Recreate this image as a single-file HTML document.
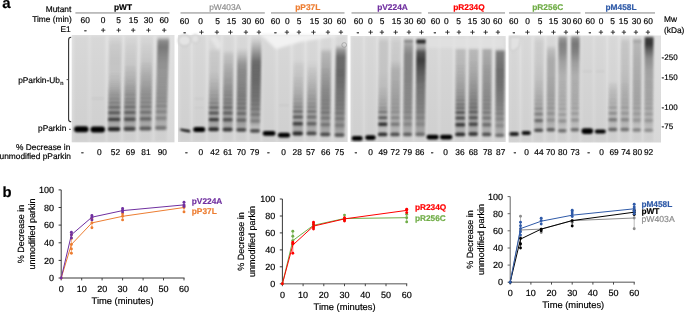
<!DOCTYPE html>
<html><head><meta charset="utf-8"><title>Parkin ubiquitination</title>
<style>
html,body{margin:0;padding:0;background:#fff;}
body{width:685px;height:312px;overflow:hidden;}
svg{display:block;font-family:'Liberation Sans', Arial, sans-serif;}
text{text-rendering:geometricPrecision;}
</style></head><body>
<svg width="685" height="312" viewBox="0 0 685 312">
<rect width="685" height="312" fill="#fff"/>
<defs>
<filter id="bb" x="-20%" y="-60%" width="140%" height="220%"><feGaussianBlur stdDeviation="0.8 0.85"/></filter>
<filter id="sb" x="-30%" y="-5%" width="160%" height="110%"><feGaussianBlur stdDeviation="1.0 1.0"/></filter>
<filter id="lb" x="-30%" y="-5%" width="160%" height="110%"><feGaussianBlur stdDeviation="1.2 1.2"/></filter>
<filter id="ab" x="-10%" y="-10%" width="120%" height="120%"><feGaussianBlur stdDeviation="1.5"/></filter>
<linearGradient id="gbg" x1="0" y1="0" x2="0" y2="1"><stop offset="0" stop-color="#e1e1e1"/><stop offset="0.5" stop-color="#dcdcdc"/><stop offset="1" stop-color="#d8d8d8"/></linearGradient>
<linearGradient id="sg2" gradientUnits="userSpaceOnUse" x1="0" y1="37" x2="0" y2="132"><stop offset="0.000" stop-color="#000" stop-opacity="0.000"/><stop offset="0.084" stop-color="#000" stop-opacity="0.060"/><stop offset="0.242" stop-color="#000" stop-opacity="0.080"/><stop offset="0.400" stop-color="#000" stop-opacity="0.070"/><stop offset="0.505" stop-color="#000" stop-opacity="0.120"/><stop offset="0.611" stop-color="#000" stop-opacity="0.200"/><stop offset="0.716" stop-color="#000" stop-opacity="0.240"/><stop offset="0.853" stop-color="#000" stop-opacity="0.260"/><stop offset="0.937" stop-color="#000" stop-opacity="0.180"/><stop offset="1.000" stop-color="#000" stop-opacity="0.000"/></linearGradient>
<linearGradient id="sg3" gradientUnits="userSpaceOnUse" x1="0" y1="37" x2="0" y2="132"><stop offset="0.000" stop-color="#000" stop-opacity="0.000"/><stop offset="0.116" stop-color="#000" stop-opacity="0.040"/><stop offset="0.295" stop-color="#000" stop-opacity="0.070"/><stop offset="0.453" stop-color="#000" stop-opacity="0.140"/><stop offset="0.611" stop-color="#000" stop-opacity="0.220"/><stop offset="0.716" stop-color="#000" stop-opacity="0.250"/><stop offset="0.853" stop-color="#000" stop-opacity="0.260"/><stop offset="0.937" stop-color="#000" stop-opacity="0.180"/><stop offset="1.000" stop-color="#000" stop-opacity="0.000"/></linearGradient>
<linearGradient id="sg4" gradientUnits="userSpaceOnUse" x1="0" y1="37" x2="0" y2="132"><stop offset="0.000" stop-color="#000" stop-opacity="0.000"/><stop offset="0.116" stop-color="#000" stop-opacity="0.040"/><stop offset="0.263" stop-color="#000" stop-opacity="0.080"/><stop offset="0.400" stop-color="#000" stop-opacity="0.160"/><stop offset="0.558" stop-color="#000" stop-opacity="0.220"/><stop offset="0.716" stop-color="#000" stop-opacity="0.250"/><stop offset="0.853" stop-color="#000" stop-opacity="0.250"/><stop offset="0.937" stop-color="#000" stop-opacity="0.180"/><stop offset="1.000" stop-color="#000" stop-opacity="0.000"/></linearGradient>
<linearGradient id="sg5" gradientUnits="userSpaceOnUse" x1="0" y1="37" x2="0" y2="132"><stop offset="0.000" stop-color="#000" stop-opacity="0.000"/><stop offset="0.042" stop-color="#000" stop-opacity="0.360"/><stop offset="0.105" stop-color="#000" stop-opacity="0.440"/><stop offset="0.211" stop-color="#000" stop-opacity="0.360"/><stop offset="0.347" stop-color="#000" stop-opacity="0.280"/><stop offset="0.558" stop-color="#000" stop-opacity="0.250"/><stop offset="0.768" stop-color="#000" stop-opacity="0.240"/><stop offset="0.937" stop-color="#000" stop-opacity="0.160"/><stop offset="1.000" stop-color="#000" stop-opacity="0.000"/></linearGradient>
<linearGradient id="sg8" gradientUnits="userSpaceOnUse" x1="0" y1="48" x2="0" y2="132"><stop offset="0.000" stop-color="#000" stop-opacity="0.000"/><stop offset="0.048" stop-color="#000" stop-opacity="0.060"/><stop offset="0.321" stop-color="#000" stop-opacity="0.080"/><stop offset="0.500" stop-color="#000" stop-opacity="0.150"/><stop offset="0.738" stop-color="#000" stop-opacity="0.220"/><stop offset="0.929" stop-color="#000" stop-opacity="0.200"/><stop offset="1.000" stop-color="#000" stop-opacity="0.000"/></linearGradient>
<linearGradient id="sg9" gradientUnits="userSpaceOnUse" x1="0" y1="50" x2="0" y2="132"><stop offset="0.000" stop-color="#000" stop-opacity="0.000"/><stop offset="0.061" stop-color="#000" stop-opacity="0.100"/><stop offset="0.305" stop-color="#000" stop-opacity="0.200"/><stop offset="0.488" stop-color="#000" stop-opacity="0.250"/><stop offset="0.732" stop-color="#000" stop-opacity="0.280"/><stop offset="0.927" stop-color="#000" stop-opacity="0.200"/><stop offset="1.000" stop-color="#000" stop-opacity="0.000"/></linearGradient>
<linearGradient id="sg10" gradientUnits="userSpaceOnUse" x1="0" y1="48" x2="0" y2="132"><stop offset="0.000" stop-color="#000" stop-opacity="0.000"/><stop offset="0.095" stop-color="#000" stop-opacity="0.140"/><stop offset="0.167" stop-color="#000" stop-opacity="0.270"/><stop offset="0.262" stop-color="#000" stop-opacity="0.320"/><stop offset="0.500" stop-color="#000" stop-opacity="0.320"/><stop offset="0.738" stop-color="#000" stop-opacity="0.300"/><stop offset="0.929" stop-color="#000" stop-opacity="0.220"/><stop offset="1.000" stop-color="#000" stop-opacity="0.000"/></linearGradient>
<linearGradient id="sg11" gradientUnits="userSpaceOnUse" x1="0" y1="38" x2="0" y2="132"><stop offset="0.000" stop-color="#000" stop-opacity="0.000"/><stop offset="0.074" stop-color="#000" stop-opacity="0.140"/><stop offset="0.181" stop-color="#000" stop-opacity="0.360"/><stop offset="0.255" stop-color="#000" stop-opacity="0.500"/><stop offset="0.447" stop-color="#000" stop-opacity="0.480"/><stop offset="0.660" stop-color="#000" stop-opacity="0.380"/><stop offset="0.872" stop-color="#000" stop-opacity="0.260"/><stop offset="1.000" stop-color="#000" stop-opacity="0.000"/></linearGradient>
<linearGradient id="sg14" gradientUnits="userSpaceOnUse" x1="0" y1="60" x2="0" y2="137"><stop offset="0.000" stop-color="#000" stop-opacity="0.000"/><stop offset="0.065" stop-color="#000" stop-opacity="0.050"/><stop offset="0.390" stop-color="#000" stop-opacity="0.120"/><stop offset="0.649" stop-color="#000" stop-opacity="0.200"/><stop offset="0.909" stop-color="#000" stop-opacity="0.200"/><stop offset="1.000" stop-color="#000" stop-opacity="0.000"/></linearGradient>
<linearGradient id="sg15" gradientUnits="userSpaceOnUse" x1="0" y1="60" x2="0" y2="137"><stop offset="0.000" stop-color="#000" stop-opacity="0.000"/><stop offset="0.130" stop-color="#000" stop-opacity="0.050"/><stop offset="0.390" stop-color="#000" stop-opacity="0.140"/><stop offset="0.584" stop-color="#000" stop-opacity="0.200"/><stop offset="0.779" stop-color="#000" stop-opacity="0.220"/><stop offset="0.909" stop-color="#000" stop-opacity="0.180"/><stop offset="1.000" stop-color="#000" stop-opacity="0.000"/></linearGradient>
<linearGradient id="sg16" gradientUnits="userSpaceOnUse" x1="0" y1="48" x2="0" y2="137"><stop offset="0.000" stop-color="#000" stop-opacity="0.000"/><stop offset="0.056" stop-color="#000" stop-opacity="0.150"/><stop offset="0.247" stop-color="#000" stop-opacity="0.220"/><stop offset="0.472" stop-color="#000" stop-opacity="0.300"/><stop offset="0.697" stop-color="#000" stop-opacity="0.300"/><stop offset="0.921" stop-color="#000" stop-opacity="0.220"/><stop offset="1.000" stop-color="#000" stop-opacity="0.000"/></linearGradient>
<linearGradient id="sg17" gradientUnits="userSpaceOnUse" x1="0" y1="45" x2="0" y2="137"><stop offset="0.000" stop-color="#000" stop-opacity="0.000"/><stop offset="0.054" stop-color="#000" stop-opacity="0.300"/><stop offset="0.130" stop-color="#000" stop-opacity="0.500"/><stop offset="0.326" stop-color="#000" stop-opacity="0.500"/><stop offset="0.543" stop-color="#000" stop-opacity="0.400"/><stop offset="0.761" stop-color="#000" stop-opacity="0.320"/><stop offset="0.924" stop-color="#000" stop-opacity="0.250"/><stop offset="1.000" stop-color="#000" stop-opacity="0.000"/></linearGradient>
<linearGradient id="sg20" gradientUnits="userSpaceOnUse" x1="0" y1="38" x2="0" y2="136"><stop offset="0.000" stop-color="#000" stop-opacity="0.000"/><stop offset="0.041" stop-color="#000" stop-opacity="0.080"/><stop offset="0.327" stop-color="#000" stop-opacity="0.080"/><stop offset="0.531" stop-color="#000" stop-opacity="0.120"/><stop offset="0.735" stop-color="#000" stop-opacity="0.160"/><stop offset="0.918" stop-color="#000" stop-opacity="0.120"/><stop offset="1.000" stop-color="#000" stop-opacity="0.000"/></linearGradient>
<linearGradient id="sg21" gradientUnits="userSpaceOnUse" x1="0" y1="38" x2="0" y2="137"><stop offset="0.000" stop-color="#000" stop-opacity="0.000"/><stop offset="0.040" stop-color="#000" stop-opacity="0.050"/><stop offset="0.222" stop-color="#000" stop-opacity="0.060"/><stop offset="0.323" stop-color="#000" stop-opacity="0.180"/><stop offset="0.525" stop-color="#000" stop-opacity="0.200"/><stop offset="0.727" stop-color="#000" stop-opacity="0.200"/><stop offset="0.929" stop-color="#000" stop-opacity="0.150"/><stop offset="1.000" stop-color="#000" stop-opacity="0.000"/></linearGradient>
<linearGradient id="sg22" gradientUnits="userSpaceOnUse" x1="0" y1="39" x2="0" y2="137"><stop offset="0.000" stop-color="#000" stop-opacity="0.000"/><stop offset="0.020" stop-color="#000" stop-opacity="0.450"/><stop offset="0.041" stop-color="#000" stop-opacity="0.200"/><stop offset="0.092" stop-color="#000" stop-opacity="0.300"/><stop offset="0.163" stop-color="#000" stop-opacity="0.380"/><stop offset="0.367" stop-color="#000" stop-opacity="0.380"/><stop offset="0.571" stop-color="#000" stop-opacity="0.320"/><stop offset="0.776" stop-color="#000" stop-opacity="0.280"/><stop offset="0.929" stop-color="#000" stop-opacity="0.200"/><stop offset="1.000" stop-color="#000" stop-opacity="0.000"/></linearGradient>
<linearGradient id="sg23" gradientUnits="userSpaceOnUse" x1="0" y1="38.5" x2="0" y2="137"><stop offset="0.000" stop-color="#000" stop-opacity="0.000"/><stop offset="0.020" stop-color="#000" stop-opacity="0.800"/><stop offset="0.041" stop-color="#000" stop-opacity="0.800"/><stop offset="0.061" stop-color="#000" stop-opacity="0.200"/><stop offset="0.096" stop-color="#000" stop-opacity="0.250"/><stop offset="0.137" stop-color="#000" stop-opacity="0.600"/><stop offset="0.218" stop-color="#000" stop-opacity="0.720"/><stop offset="0.320" stop-color="#000" stop-opacity="0.600"/><stop offset="0.472" stop-color="#000" stop-opacity="0.450"/><stop offset="0.624" stop-color="#000" stop-opacity="0.380"/><stop offset="0.827" stop-color="#000" stop-opacity="0.300"/><stop offset="0.949" stop-color="#000" stop-opacity="0.200"/><stop offset="1.000" stop-color="#000" stop-opacity="0.000"/></linearGradient>
<linearGradient id="sg26" gradientUnits="userSpaceOnUse" x1="0" y1="48" x2="0" y2="137"><stop offset="0.000" stop-color="#000" stop-opacity="0.000"/><stop offset="0.022" stop-color="#000" stop-opacity="0.120"/><stop offset="0.247" stop-color="#000" stop-opacity="0.150"/><stop offset="0.472" stop-color="#000" stop-opacity="0.200"/><stop offset="0.697" stop-color="#000" stop-opacity="0.220"/><stop offset="0.921" stop-color="#000" stop-opacity="0.180"/><stop offset="1.000" stop-color="#000" stop-opacity="0.000"/></linearGradient>
<linearGradient id="sg27" gradientUnits="userSpaceOnUse" x1="0" y1="48" x2="0" y2="137"><stop offset="0.000" stop-color="#000" stop-opacity="0.000"/><stop offset="0.022" stop-color="#000" stop-opacity="0.140"/><stop offset="0.247" stop-color="#000" stop-opacity="0.180"/><stop offset="0.472" stop-color="#000" stop-opacity="0.250"/><stop offset="0.697" stop-color="#000" stop-opacity="0.280"/><stop offset="0.921" stop-color="#000" stop-opacity="0.200"/><stop offset="1.000" stop-color="#000" stop-opacity="0.000"/></linearGradient>
<linearGradient id="sg28" gradientUnits="userSpaceOnUse" x1="0" y1="48" x2="0" y2="137"><stop offset="0.000" stop-color="#000" stop-opacity="0.000"/><stop offset="0.022" stop-color="#000" stop-opacity="0.200"/><stop offset="0.247" stop-color="#000" stop-opacity="0.260"/><stop offset="0.472" stop-color="#000" stop-opacity="0.280"/><stop offset="0.697" stop-color="#000" stop-opacity="0.260"/><stop offset="0.921" stop-color="#000" stop-opacity="0.180"/><stop offset="1.000" stop-color="#000" stop-opacity="0.000"/></linearGradient>
<linearGradient id="sg29" gradientUnits="userSpaceOnUse" x1="0" y1="49" x2="0" y2="138"><stop offset="0.000" stop-color="#000" stop-opacity="0.000"/><stop offset="0.034" stop-color="#000" stop-opacity="0.420"/><stop offset="0.236" stop-color="#000" stop-opacity="0.480"/><stop offset="0.404" stop-color="#000" stop-opacity="0.450"/><stop offset="0.573" stop-color="#000" stop-opacity="0.360"/><stop offset="0.798" stop-color="#000" stop-opacity="0.260"/><stop offset="0.933" stop-color="#000" stop-opacity="0.180"/><stop offset="1.000" stop-color="#000" stop-opacity="0.000"/></linearGradient>
<linearGradient id="sg32" gradientUnits="userSpaceOnUse" x1="0" y1="38" x2="0" y2="133"><stop offset="0.000" stop-color="#000" stop-opacity="0.000"/><stop offset="0.042" stop-color="#000" stop-opacity="0.050"/><stop offset="0.232" stop-color="#000" stop-opacity="0.060"/><stop offset="0.442" stop-color="#000" stop-opacity="0.100"/><stop offset="0.653" stop-color="#000" stop-opacity="0.140"/><stop offset="0.811" stop-color="#000" stop-opacity="0.160"/><stop offset="0.926" stop-color="#000" stop-opacity="0.130"/><stop offset="1.000" stop-color="#000" stop-opacity="0.000"/></linearGradient>
<linearGradient id="sg33" gradientUnits="userSpaceOnUse" x1="0" y1="45" x2="0" y2="133"><stop offset="0.000" stop-color="#000" stop-opacity="0.000"/><stop offset="0.057" stop-color="#000" stop-opacity="0.120"/><stop offset="0.170" stop-color="#000" stop-opacity="0.200"/><stop offset="0.341" stop-color="#000" stop-opacity="0.200"/><stop offset="0.568" stop-color="#000" stop-opacity="0.200"/><stop offset="0.795" stop-color="#000" stop-opacity="0.180"/><stop offset="0.920" stop-color="#000" stop-opacity="0.150"/><stop offset="1.000" stop-color="#000" stop-opacity="0.000"/></linearGradient>
<linearGradient id="sg34" gradientUnits="userSpaceOnUse" x1="0" y1="35" x2="0" y2="133"><stop offset="0.000" stop-color="#000" stop-opacity="0.000"/><stop offset="0.031" stop-color="#000" stop-opacity="0.300"/><stop offset="0.092" stop-color="#000" stop-opacity="0.400"/><stop offset="0.173" stop-color="#000" stop-opacity="0.360"/><stop offset="0.276" stop-color="#000" stop-opacity="0.250"/><stop offset="0.408" stop-color="#000" stop-opacity="0.170"/><stop offset="0.612" stop-color="#000" stop-opacity="0.140"/><stop offset="0.816" stop-color="#000" stop-opacity="0.130"/><stop offset="0.929" stop-color="#000" stop-opacity="0.100"/><stop offset="1.000" stop-color="#000" stop-opacity="0.000"/></linearGradient>
<linearGradient id="sg35" gradientUnits="userSpaceOnUse" x1="0" y1="35" x2="0" y2="133"><stop offset="0.000" stop-color="#000" stop-opacity="0.000"/><stop offset="0.031" stop-color="#000" stop-opacity="0.360"/><stop offset="0.092" stop-color="#000" stop-opacity="0.450"/><stop offset="0.173" stop-color="#000" stop-opacity="0.400"/><stop offset="0.276" stop-color="#000" stop-opacity="0.270"/><stop offset="0.408" stop-color="#000" stop-opacity="0.180"/><stop offset="0.612" stop-color="#000" stop-opacity="0.150"/><stop offset="0.816" stop-color="#000" stop-opacity="0.130"/><stop offset="0.929" stop-color="#000" stop-opacity="0.100"/><stop offset="1.000" stop-color="#000" stop-opacity="0.000"/></linearGradient>
<linearGradient id="sg38" gradientUnits="userSpaceOnUse" x1="0" y1="80" x2="0" y2="133"><stop offset="0.000" stop-color="#000" stop-opacity="0.000"/><stop offset="0.189" stop-color="#000" stop-opacity="0.080"/><stop offset="0.566" stop-color="#000" stop-opacity="0.120"/><stop offset="0.868" stop-color="#000" stop-opacity="0.100"/><stop offset="1.000" stop-color="#000" stop-opacity="0.000"/></linearGradient>
<linearGradient id="sg39" gradientUnits="userSpaceOnUse" x1="0" y1="38" x2="0" y2="133"><stop offset="0.000" stop-color="#000" stop-opacity="0.000"/><stop offset="0.042" stop-color="#000" stop-opacity="0.080"/><stop offset="0.337" stop-color="#000" stop-opacity="0.100"/><stop offset="0.547" stop-color="#000" stop-opacity="0.140"/><stop offset="0.758" stop-color="#000" stop-opacity="0.150"/><stop offset="0.926" stop-color="#000" stop-opacity="0.120"/><stop offset="1.000" stop-color="#000" stop-opacity="0.000"/></linearGradient>
<linearGradient id="sg40" gradientUnits="userSpaceOnUse" x1="0" y1="38" x2="0" y2="133"><stop offset="0.000" stop-color="#000" stop-opacity="0.000"/><stop offset="0.032" stop-color="#000" stop-opacity="0.250"/><stop offset="0.063" stop-color="#000" stop-opacity="0.150"/><stop offset="0.232" stop-color="#000" stop-opacity="0.180"/><stop offset="0.442" stop-color="#000" stop-opacity="0.200"/><stop offset="0.653" stop-color="#000" stop-opacity="0.180"/><stop offset="0.863" stop-color="#000" stop-opacity="0.150"/><stop offset="1.000" stop-color="#000" stop-opacity="0.000"/></linearGradient>
<linearGradient id="sg41" gradientUnits="userSpaceOnUse" x1="0" y1="36" x2="0" y2="133"><stop offset="0.000" stop-color="#000" stop-opacity="0.000"/><stop offset="0.021" stop-color="#000" stop-opacity="0.720"/><stop offset="0.082" stop-color="#000" stop-opacity="0.750"/><stop offset="0.144" stop-color="#000" stop-opacity="0.550"/><stop offset="0.227" stop-color="#000" stop-opacity="0.350"/><stop offset="0.351" stop-color="#000" stop-opacity="0.250"/><stop offset="0.557" stop-color="#000" stop-opacity="0.200"/><stop offset="0.763" stop-color="#000" stop-opacity="0.160"/><stop offset="0.918" stop-color="#000" stop-opacity="0.120"/><stop offset="1.000" stop-color="#000" stop-opacity="0.000"/></linearGradient>
</defs>
<rect x="71.7" y="35.0" width="102.8" height="107.3" fill="url(#gbg)"/>
<rect x="178.0" y="35.0" width="169.6" height="107.0" fill="url(#gbg)"/>
<rect x="350.5" y="36.0" width="155.2" height="106.0" fill="url(#gbg)"/>
<rect x="508.6" y="35.5" width="152.4" height="107.0" fill="url(#gbg)"/>
<path d="M74.0,36.0 L88.5,36.0 L88.5,141.3 L74.0,141.3 Z" fill="#000" opacity="0.035" filter="url(#lb)"/>
<rect x="74.0" y="126.2" width="14.5" height="6.0" rx="3.0" fill="#000" opacity="1.000" filter="url(#bb)"/>
<path d="M90.5,36.0 L105.0,36.0 L105.0,141.3 L90.5,141.3 Z" fill="#000" opacity="0.035" filter="url(#lb)"/>
<rect x="91.5" y="97.5" width="12.5" height="2" fill="#000" opacity="0.040" filter="url(#bb)"/>
<rect x="90.5" y="126.6" width="14.5" height="5.8" rx="2.9" fill="#000" opacity="1.000" filter="url(#bb)"/>
<path d="M109.2,36.0 L121.8,36.0 L120.2,141.3 L107.8,141.3 Z" fill="#000" opacity="0.035" filter="url(#lb)"/>
<path d="M109.2,37 L121.8,37 L120.2,132 L107.8,132 Z" fill="url(#sg2)" filter="url(#sb)"/>
<rect x="108.2" y="117.7" width="11.9" height="3.4" rx="1.2" fill="#000" opacity="0.602" filter="url(#bb)"/>
<rect x="108.3" y="111.3" width="11.9" height="3.0" rx="1.2" fill="#000" opacity="0.449" filter="url(#bb)"/>
<rect x="108.4" y="105.7" width="11.9" height="3.0" rx="1.2" fill="#000" opacity="0.331" filter="url(#bb)"/>
<rect x="108.5" y="101.4" width="11.9" height="2.5" rx="1.2" fill="#000" opacity="0.239" filter="url(#bb)"/>
<rect x="108.5" y="97.5" width="11.9" height="2.5" rx="1.2" fill="#000" opacity="0.192" filter="url(#bb)"/>
<rect x="108.6" y="93.8" width="11.9" height="2.5" rx="1.2" fill="#000" opacity="0.161" filter="url(#bb)"/>
<rect x="108.6" y="90.2" width="11.9" height="2.5" rx="1.2" fill="#000" opacity="0.119" filter="url(#bb)"/>
<rect x="108.7" y="86.8" width="11.9" height="2.5" rx="1.2" fill="#000" opacity="0.088" filter="url(#bb)"/>
<rect x="108.8" y="83.3" width="11.9" height="2.5" rx="1.2" fill="#000" opacity="0.065" filter="url(#bb)"/>
<rect x="108.8" y="79.9" width="11.9" height="2.5" rx="1.2" fill="#000" opacity="0.048" filter="url(#bb)"/>
<rect x="108.9" y="76.5" width="11.9" height="2.5" rx="1.2" fill="#000" opacity="0.036" filter="url(#bb)"/>
<rect x="108.9" y="73.2" width="11.9" height="2.5" rx="1.2" fill="#000" opacity="0.026" filter="url(#bb)"/>
<rect x="107.8" y="126.9" width="12.5" height="4.4" rx="2.2" fill="#000" opacity="0.800" filter="url(#bb)"/>
<path d="M125.1,36.0 L137.1,36.0 L135.6,141.3 L123.6,141.3 Z" fill="#000" opacity="0.035" filter="url(#lb)"/>
<path d="M125.1,37 L137.1,37 L135.6,132 L123.6,132 Z" fill="url(#sg3)" filter="url(#sb)"/>
<rect x="124.1" y="117.5" width="11.4" height="3.4" rx="1.2" fill="#000" opacity="0.495" filter="url(#bb)"/>
<rect x="124.2" y="111.1" width="11.4" height="3.0" rx="1.2" fill="#000" opacity="0.389" filter="url(#bb)"/>
<rect x="124.2" y="105.5" width="11.4" height="3.0" rx="1.2" fill="#000" opacity="0.305" filter="url(#bb)"/>
<rect x="124.3" y="101.2" width="11.4" height="2.5" rx="1.2" fill="#000" opacity="0.238" filter="url(#bb)"/>
<rect x="124.4" y="97.4" width="11.4" height="2.5" rx="1.2" fill="#000" opacity="0.204" filter="url(#bb)"/>
<rect x="124.4" y="93.6" width="11.4" height="2.5" rx="1.2" fill="#000" opacity="0.180" filter="url(#bb)"/>
<rect x="124.5" y="90.1" width="11.4" height="2.5" rx="1.2" fill="#000" opacity="0.139" filter="url(#bb)"/>
<rect x="124.5" y="86.6" width="11.4" height="2.5" rx="1.2" fill="#000" opacity="0.108" filter="url(#bb)"/>
<rect x="124.6" y="83.2" width="11.4" height="2.5" rx="1.2" fill="#000" opacity="0.084" filter="url(#bb)"/>
<rect x="124.7" y="79.8" width="11.4" height="2.5" rx="1.2" fill="#000" opacity="0.065" filter="url(#bb)"/>
<rect x="124.7" y="76.4" width="11.4" height="2.5" rx="1.2" fill="#000" opacity="0.050" filter="url(#bb)"/>
<rect x="124.8" y="73.1" width="11.4" height="2.5" rx="1.2" fill="#000" opacity="0.039" filter="url(#bb)"/>
<rect x="124.8" y="69.8" width="11.4" height="2.5" rx="1.2" fill="#000" opacity="0.030" filter="url(#bb)"/>
<rect x="124.9" y="66.5" width="11.4" height="2.5" rx="1.2" fill="#000" opacity="0.023" filter="url(#bb)"/>
<rect x="123.6" y="126.8" width="12.0" height="4.2" rx="2.1" fill="#000" opacity="0.620" filter="url(#bb)"/>
<path d="M140.9,36.0 L152.9,36.0 L151.4,141.3 L139.4,141.3 Z" fill="#000" opacity="0.035" filter="url(#lb)"/>
<path d="M140.9,37 L152.9,37 L151.4,132 L139.4,132 Z" fill="url(#sg4)" filter="url(#sb)"/>
<rect x="139.9" y="117.2" width="11.4" height="3.4" rx="1.2" fill="#000" opacity="0.367" filter="url(#bb)"/>
<rect x="140.0" y="110.8" width="11.4" height="3.0" rx="1.2" fill="#000" opacity="0.291" filter="url(#bb)"/>
<rect x="140.0" y="105.2" width="11.4" height="3.0" rx="1.2" fill="#000" opacity="0.232" filter="url(#bb)"/>
<rect x="140.1" y="100.9" width="11.4" height="2.5" rx="1.2" fill="#000" opacity="0.208" filter="url(#bb)"/>
<rect x="140.2" y="97.0" width="11.4" height="2.5" rx="1.2" fill="#000" opacity="0.188" filter="url(#bb)"/>
<rect x="140.2" y="93.2" width="11.4" height="2.5" rx="1.2" fill="#000" opacity="0.169" filter="url(#bb)"/>
<rect x="140.3" y="89.8" width="11.4" height="2.5" rx="1.2" fill="#000" opacity="0.134" filter="url(#bb)"/>
<rect x="140.3" y="86.2" width="11.4" height="2.5" rx="1.2" fill="#000" opacity="0.106" filter="url(#bb)"/>
<rect x="140.4" y="82.8" width="11.4" height="2.5" rx="1.2" fill="#000" opacity="0.084" filter="url(#bb)"/>
<rect x="140.5" y="79.4" width="11.4" height="2.5" rx="1.2" fill="#000" opacity="0.066" filter="url(#bb)"/>
<rect x="140.5" y="76.0" width="11.4" height="2.5" rx="1.2" fill="#000" opacity="0.053" filter="url(#bb)"/>
<rect x="140.6" y="72.8" width="11.4" height="2.5" rx="1.2" fill="#000" opacity="0.042" filter="url(#bb)"/>
<rect x="140.6" y="69.4" width="11.4" height="2.5" rx="1.2" fill="#000" opacity="0.033" filter="url(#bb)"/>
<rect x="140.7" y="66.1" width="11.4" height="2.5" rx="1.2" fill="#000" opacity="0.026" filter="url(#bb)"/>
<rect x="140.7" y="62.8" width="11.4" height="2.5" rx="1.2" fill="#000" opacity="0.021" filter="url(#bb)"/>
<rect x="139.4" y="126.6" width="12.0" height="4.0" rx="2.0" fill="#000" opacity="0.500" filter="url(#bb)"/>
<path d="M157.6,36.0 L169.1,36.0 L166.6,141.3 L155.1,141.3 Z" fill="#000" opacity="0.035" filter="url(#lb)"/>
<path d="M157.6,37 L169.1,37 L166.6,132 L155.1,132 Z" fill="url(#sg5)" filter="url(#sb)"/>
<rect x="155.6" y="116.6" width="10.9" height="3.4" rx="1.2" fill="#000" opacity="0.201" filter="url(#bb)"/>
<rect x="155.8" y="110.2" width="10.9" height="3.0" rx="1.2" fill="#000" opacity="0.182" filter="url(#bb)"/>
<rect x="155.9" y="104.6" width="10.9" height="3.0" rx="1.2" fill="#000" opacity="0.168" filter="url(#bb)"/>
<rect x="156.0" y="100.3" width="10.9" height="2.5" rx="1.2" fill="#000" opacity="0.154" filter="url(#bb)"/>
<rect x="156.1" y="96.5" width="10.9" height="2.5" rx="1.2" fill="#000" opacity="0.142" filter="url(#bb)"/>
<rect x="156.2" y="92.7" width="10.9" height="2.5" rx="1.2" fill="#000" opacity="0.130" filter="url(#bb)"/>
<rect x="156.3" y="89.2" width="10.9" height="2.5" rx="1.2" fill="#000" opacity="0.106" filter="url(#bb)"/>
<rect x="156.4" y="85.7" width="10.9" height="2.5" rx="1.2" fill="#000" opacity="0.086" filter="url(#bb)"/>
<rect x="156.5" y="82.2" width="10.9" height="2.5" rx="1.2" fill="#000" opacity="0.069" filter="url(#bb)"/>
<rect x="156.6" y="78.8" width="10.9" height="2.5" rx="1.2" fill="#000" opacity="0.056" filter="url(#bb)"/>
<rect x="156.7" y="75.5" width="10.9" height="2.5" rx="1.2" fill="#000" opacity="0.045" filter="url(#bb)"/>
<rect x="156.8" y="72.2" width="10.9" height="2.5" rx="1.2" fill="#000" opacity="0.037" filter="url(#bb)"/>
<rect x="156.9" y="68.8" width="10.9" height="2.5" rx="1.2" fill="#000" opacity="0.030" filter="url(#bb)"/>
<rect x="157.0" y="65.5" width="10.9" height="2.5" rx="1.2" fill="#000" opacity="0.024" filter="url(#bb)"/>
<rect x="155.1" y="126.1" width="11.5" height="3.8" rx="1.9" fill="#000" opacity="0.350" filter="url(#bb)"/>
<path d="M179.8,36.0 L190.2,36.0 L190.2,141.0 L179.8,141.0 Z" fill="#000" opacity="0.035" filter="url(#lb)"/>
<rect x="179.8" y="128.7" width="10.5" height="3.5" rx="1.8" fill="#000" opacity="0.000" filter="url(#bb)"/>
<path d="M193.2,36.0 L205.2,36.0 L205.2,141.0 L193.2,141.0 Z" fill="#000" opacity="0.035" filter="url(#lb)"/>
<rect x="194.2" y="97.7" width="10.0" height="2" fill="#000" opacity="0.030" filter="url(#bb)"/>
<rect x="194.2" y="106.8" width="10.0" height="2" fill="#000" opacity="0.025" filter="url(#bb)"/>
<rect x="193.2" y="126.9" width="12.0" height="5.0" rx="2.5" fill="#000" opacity="1.000" filter="url(#bb)"/>
<path d="M209.4,36.0 L219.9,36.0 L218.9,141.0 L208.4,141.0 Z" fill="#000" opacity="0.035" filter="url(#lb)"/>
<path d="M209.4,48 L219.9,48 L218.9,132 L208.4,132 Z" fill="url(#sg8)" filter="url(#sb)"/>
<rect x="208.9" y="117.9" width="9.9" height="3.4" rx="1.2" fill="#000" opacity="0.659" filter="url(#bb)"/>
<rect x="208.9" y="111.5" width="9.9" height="3.0" rx="1.2" fill="#000" opacity="0.497" filter="url(#bb)"/>
<rect x="209.0" y="105.9" width="9.9" height="3.0" rx="1.2" fill="#000" opacity="0.370" filter="url(#bb)"/>
<rect x="209.0" y="101.7" width="9.9" height="2.5" rx="1.2" fill="#000" opacity="0.276" filter="url(#bb)"/>
<rect x="209.1" y="97.8" width="9.9" height="2.5" rx="1.2" fill="#000" opacity="0.202" filter="url(#bb)"/>
<rect x="209.1" y="94.0" width="9.9" height="2.5" rx="1.2" fill="#000" opacity="0.158" filter="url(#bb)"/>
<rect x="209.1" y="90.5" width="9.9" height="2.5" rx="1.2" fill="#000" opacity="0.116" filter="url(#bb)"/>
<rect x="209.2" y="87.0" width="9.9" height="2.5" rx="1.2" fill="#000" opacity="0.084" filter="url(#bb)"/>
<rect x="209.2" y="83.6" width="9.9" height="2.5" rx="1.2" fill="#000" opacity="0.062" filter="url(#bb)"/>
<rect x="209.3" y="80.2" width="9.9" height="2.5" rx="1.2" fill="#000" opacity="0.045" filter="url(#bb)"/>
<rect x="209.3" y="76.8" width="9.9" height="2.5" rx="1.2" fill="#000" opacity="0.033" filter="url(#bb)"/>
<rect x="209.3" y="73.5" width="9.9" height="2.5" rx="1.2" fill="#000" opacity="0.024" filter="url(#bb)"/>
<rect x="208.4" y="127.3" width="10.5" height="4.0" rx="2.0" fill="#000" opacity="0.770" filter="url(#bb)"/>
<path d="M223.6,36.0 L233.6,36.0 L232.6,141.0 L222.6,141.0 Z" fill="#000" opacity="0.035" filter="url(#lb)"/>
<path d="M223.6,50 L233.6,50 L232.6,132 L222.6,132 Z" fill="url(#sg9)" filter="url(#sb)"/>
<rect x="223.0" y="118.0" width="9.4" height="3.4" rx="1.2" fill="#000" opacity="0.493" filter="url(#bb)"/>
<rect x="223.1" y="111.6" width="9.4" height="3.0" rx="1.2" fill="#000" opacity="0.387" filter="url(#bb)"/>
<rect x="223.1" y="106.0" width="9.4" height="3.0" rx="1.2" fill="#000" opacity="0.301" filter="url(#bb)"/>
<rect x="223.2" y="101.8" width="9.4" height="2.5" rx="1.2" fill="#000" opacity="0.245" filter="url(#bb)"/>
<rect x="223.2" y="97.9" width="9.4" height="2.5" rx="1.2" fill="#000" opacity="0.220" filter="url(#bb)"/>
<rect x="223.3" y="94.1" width="9.4" height="2.5" rx="1.2" fill="#000" opacity="0.198" filter="url(#bb)"/>
<rect x="223.3" y="90.6" width="9.4" height="2.5" rx="1.2" fill="#000" opacity="0.157" filter="url(#bb)"/>
<rect x="223.3" y="87.1" width="9.4" height="2.5" rx="1.2" fill="#000" opacity="0.124" filter="url(#bb)"/>
<rect x="223.4" y="83.7" width="9.4" height="2.5" rx="1.2" fill="#000" opacity="0.098" filter="url(#bb)"/>
<rect x="223.4" y="80.2" width="9.4" height="2.5" rx="1.2" fill="#000" opacity="0.078" filter="url(#bb)"/>
<rect x="223.4" y="76.9" width="9.4" height="2.5" rx="1.2" fill="#000" opacity="0.062" filter="url(#bb)"/>
<rect x="223.5" y="73.6" width="9.4" height="2.5" rx="1.2" fill="#000" opacity="0.049" filter="url(#bb)"/>
<rect x="223.5" y="70.2" width="9.4" height="2.5" rx="1.2" fill="#000" opacity="0.039" filter="url(#bb)"/>
<rect x="223.5" y="67.0" width="9.4" height="2.5" rx="1.2" fill="#000" opacity="0.031" filter="url(#bb)"/>
<rect x="223.6" y="63.7" width="9.4" height="2.5" rx="1.2" fill="#000" opacity="0.024" filter="url(#bb)"/>
<rect x="222.6" y="127.4" width="10.0" height="4.0" rx="2.0" fill="#000" opacity="0.690" filter="url(#bb)"/>
<path d="M237.3,36.0 L247.3,36.0 L246.3,141.0 L236.3,141.0 Z" fill="#000" opacity="0.035" filter="url(#lb)"/>
<path d="M237.3,48 L247.3,48 L246.3,132 L236.3,132 Z" fill="url(#sg10)" filter="url(#sb)"/>
<rect x="236.7" y="118.4" width="9.4" height="3.4" rx="1.2" fill="#000" opacity="0.374" filter="url(#bb)"/>
<rect x="236.8" y="112.0" width="9.4" height="3.0" rx="1.2" fill="#000" opacity="0.293" filter="url(#bb)"/>
<rect x="236.8" y="106.4" width="9.4" height="3.0" rx="1.2" fill="#000" opacity="0.252" filter="url(#bb)"/>
<rect x="236.9" y="102.2" width="9.4" height="2.5" rx="1.2" fill="#000" opacity="0.234" filter="url(#bb)"/>
<rect x="236.9" y="98.3" width="9.4" height="2.5" rx="1.2" fill="#000" opacity="0.218" filter="url(#bb)"/>
<rect x="237.0" y="94.5" width="9.4" height="2.5" rx="1.2" fill="#000" opacity="0.203" filter="url(#bb)"/>
<rect x="237.0" y="91.0" width="9.4" height="2.5" rx="1.2" fill="#000" opacity="0.166" filter="url(#bb)"/>
<rect x="237.0" y="87.5" width="9.4" height="2.5" rx="1.2" fill="#000" opacity="0.136" filter="url(#bb)"/>
<rect x="237.1" y="84.1" width="9.4" height="2.5" rx="1.2" fill="#000" opacity="0.111" filter="url(#bb)"/>
<rect x="237.1" y="80.7" width="9.4" height="2.5" rx="1.2" fill="#000" opacity="0.091" filter="url(#bb)"/>
<rect x="237.1" y="77.3" width="9.4" height="2.5" rx="1.2" fill="#000" opacity="0.074" filter="url(#bb)"/>
<rect x="237.2" y="74.0" width="9.4" height="2.5" rx="1.2" fill="#000" opacity="0.061" filter="url(#bb)"/>
<rect x="237.2" y="70.7" width="9.4" height="2.5" rx="1.2" fill="#000" opacity="0.050" filter="url(#bb)"/>
<rect x="237.2" y="67.4" width="9.4" height="2.5" rx="1.2" fill="#000" opacity="0.041" filter="url(#bb)"/>
<rect x="237.3" y="64.1" width="9.4" height="2.5" rx="1.2" fill="#000" opacity="0.033" filter="url(#bb)"/>
<rect x="236.3" y="127.9" width="10.0" height="3.8" rx="1.9" fill="#000" opacity="0.610" filter="url(#bb)"/>
<path d="M251.5,36.0 L261.5,36.0 L260.0,141.0 L250.0,141.0 Z" fill="#000" opacity="0.035" filter="url(#lb)"/>
<path d="M251.5,38 L261.5,38 L260.0,132 L250.0,132 Z" fill="url(#sg11)" filter="url(#sb)"/>
<rect x="250.5" y="119.4" width="9.4" height="3.4" rx="1.2" fill="#000" opacity="0.209" filter="url(#bb)"/>
<rect x="250.6" y="113.0" width="9.4" height="3.0" rx="1.2" fill="#000" opacity="0.199" filter="url(#bb)"/>
<rect x="250.6" y="107.4" width="9.4" height="3.0" rx="1.2" fill="#000" opacity="0.189" filter="url(#bb)"/>
<rect x="250.7" y="103.2" width="9.4" height="2.5" rx="1.2" fill="#000" opacity="0.179" filter="url(#bb)"/>
<rect x="250.8" y="99.3" width="9.4" height="2.5" rx="1.2" fill="#000" opacity="0.170" filter="url(#bb)"/>
<rect x="250.8" y="95.5" width="9.4" height="2.5" rx="1.2" fill="#000" opacity="0.162" filter="url(#bb)"/>
<rect x="250.9" y="92.0" width="9.4" height="2.5" rx="1.2" fill="#000" opacity="0.135" filter="url(#bb)"/>
<rect x="250.9" y="88.5" width="9.4" height="2.5" rx="1.2" fill="#000" opacity="0.113" filter="url(#bb)"/>
<rect x="251.0" y="85.1" width="9.4" height="2.5" rx="1.2" fill="#000" opacity="0.094" filter="url(#bb)"/>
<rect x="251.1" y="81.7" width="9.4" height="2.5" rx="1.2" fill="#000" opacity="0.079" filter="url(#bb)"/>
<rect x="251.1" y="78.3" width="9.4" height="2.5" rx="1.2" fill="#000" opacity="0.066" filter="url(#bb)"/>
<rect x="251.2" y="75.0" width="9.4" height="2.5" rx="1.2" fill="#000" opacity="0.055" filter="url(#bb)"/>
<rect x="251.2" y="71.7" width="9.4" height="2.5" rx="1.2" fill="#000" opacity="0.046" filter="url(#bb)"/>
<rect x="251.3" y="68.4" width="9.4" height="2.5" rx="1.2" fill="#000" opacity="0.039" filter="url(#bb)"/>
<rect x="251.3" y="65.1" width="9.4" height="2.5" rx="1.2" fill="#000" opacity="0.032" filter="url(#bb)"/>
<rect x="250.0" y="128.9" width="10.0" height="3.8" rx="1.9" fill="#000" opacity="0.610" filter="url(#bb)"/>
<path d="M262.7,36.0 L275.5,36.0 L275.5,141.0 L262.7,141.0 Z" fill="#000" opacity="0.035" filter="url(#lb)"/>
<rect x="262.7" y="131.0" width="12.8" height="4.8" rx="2.4" fill="#000" opacity="1.000" filter="url(#bb)"/>
<path d="M277.9,36.0 L290.1,36.0 L290.1,141.0 L277.9,141.0 Z" fill="#000" opacity="0.035" filter="url(#lb)"/>
<rect x="278.9" y="104.4" width="10.2" height="2" fill="#000" opacity="0.030" filter="url(#bb)"/>
<rect x="277.9" y="132.8" width="12.2" height="4.8" rx="2.4" fill="#000" opacity="1.000" filter="url(#bb)"/>
<path d="M293.5,36.0 L303.9,36.0 L302.9,141.0 L292.5,141.0 Z" fill="#000" opacity="0.035" filter="url(#lb)"/>
<path d="M293.5,60 L303.9,60 L302.9,137 L292.5,137 Z" fill="url(#sg14)" filter="url(#sb)"/>
<rect x="292.9" y="122.0" width="9.8" height="3.4" rx="1.2" fill="#000" opacity="0.612" filter="url(#bb)"/>
<rect x="293.0" y="115.6" width="9.8" height="3.0" rx="1.2" fill="#000" opacity="0.466" filter="url(#bb)"/>
<rect x="293.0" y="110.0" width="9.8" height="3.0" rx="1.2" fill="#000" opacity="0.344" filter="url(#bb)"/>
<rect x="293.1" y="105.8" width="9.8" height="2.5" rx="1.2" fill="#000" opacity="0.254" filter="url(#bb)"/>
<rect x="293.1" y="101.9" width="9.8" height="2.5" rx="1.2" fill="#000" opacity="0.187" filter="url(#bb)"/>
<rect x="293.2" y="98.1" width="9.8" height="2.5" rx="1.2" fill="#000" opacity="0.149" filter="url(#bb)"/>
<rect x="293.2" y="94.6" width="9.8" height="2.5" rx="1.2" fill="#000" opacity="0.109" filter="url(#bb)"/>
<rect x="293.2" y="91.1" width="9.8" height="2.5" rx="1.2" fill="#000" opacity="0.080" filter="url(#bb)"/>
<rect x="293.3" y="87.7" width="9.8" height="2.5" rx="1.2" fill="#000" opacity="0.058" filter="url(#bb)"/>
<rect x="293.3" y="84.2" width="9.8" height="2.5" rx="1.2" fill="#000" opacity="0.043" filter="url(#bb)"/>
<rect x="293.3" y="80.9" width="9.8" height="2.5" rx="1.2" fill="#000" opacity="0.031" filter="url(#bb)"/>
<rect x="293.4" y="77.6" width="9.8" height="2.5" rx="1.2" fill="#000" opacity="0.023" filter="url(#bb)"/>
<rect x="292.5" y="131.4" width="10.4" height="4.0" rx="2.0" fill="#000" opacity="0.770" filter="url(#bb)"/>
<path d="M307.5,36.0 L317.5,36.0 L316.5,141.0 L306.5,141.0 Z" fill="#000" opacity="0.035" filter="url(#lb)"/>
<path d="M307.5,60 L317.5,60 L316.5,137 L306.5,137 Z" fill="url(#sg15)" filter="url(#sb)"/>
<rect x="306.9" y="122.0" width="9.4" height="3.4" rx="1.2" fill="#000" opacity="0.409" filter="url(#bb)"/>
<rect x="307.0" y="115.6" width="9.4" height="3.0" rx="1.2" fill="#000" opacity="0.333" filter="url(#bb)"/>
<rect x="307.0" y="110.0" width="9.4" height="3.0" rx="1.2" fill="#000" opacity="0.279" filter="url(#bb)"/>
<rect x="307.1" y="105.8" width="9.4" height="2.5" rx="1.2" fill="#000" opacity="0.230" filter="url(#bb)"/>
<rect x="307.1" y="101.9" width="9.4" height="2.5" rx="1.2" fill="#000" opacity="0.192" filter="url(#bb)"/>
<rect x="307.2" y="98.1" width="9.4" height="2.5" rx="1.2" fill="#000" opacity="0.172" filter="url(#bb)"/>
<rect x="307.2" y="94.6" width="9.4" height="2.5" rx="1.2" fill="#000" opacity="0.136" filter="url(#bb)"/>
<rect x="307.2" y="91.1" width="9.4" height="2.5" rx="1.2" fill="#000" opacity="0.108" filter="url(#bb)"/>
<rect x="307.3" y="87.7" width="9.4" height="2.5" rx="1.2" fill="#000" opacity="0.086" filter="url(#bb)"/>
<rect x="307.3" y="84.2" width="9.4" height="2.5" rx="1.2" fill="#000" opacity="0.068" filter="url(#bb)"/>
<rect x="307.3" y="80.9" width="9.4" height="2.5" rx="1.2" fill="#000" opacity="0.054" filter="url(#bb)"/>
<rect x="307.4" y="77.6" width="9.4" height="2.5" rx="1.2" fill="#000" opacity="0.042" filter="url(#bb)"/>
<rect x="307.4" y="74.2" width="9.4" height="2.5" rx="1.2" fill="#000" opacity="0.034" filter="url(#bb)"/>
<rect x="307.4" y="71.0" width="9.4" height="2.5" rx="1.2" fill="#000" opacity="0.027" filter="url(#bb)"/>
<rect x="307.5" y="67.7" width="9.4" height="2.5" rx="1.2" fill="#000" opacity="0.021" filter="url(#bb)"/>
<rect x="306.5" y="131.5" width="10.0" height="3.8" rx="1.9" fill="#000" opacity="0.610" filter="url(#bb)"/>
<path d="M321.2,36.0 L331.2,36.0 L330.2,141.0 L320.2,141.0 Z" fill="#000" opacity="0.035" filter="url(#lb)"/>
<path d="M321.2,48 L331.2,48 L330.2,137 L320.2,137 Z" fill="url(#sg16)" filter="url(#sb)"/>
<rect x="320.6" y="122.9" width="9.4" height="3.4" rx="1.2" fill="#000" opacity="0.275" filter="url(#bb)"/>
<rect x="320.7" y="116.5" width="9.4" height="3.0" rx="1.2" fill="#000" opacity="0.230" filter="url(#bb)"/>
<rect x="320.7" y="110.9" width="9.4" height="3.0" rx="1.2" fill="#000" opacity="0.214" filter="url(#bb)"/>
<rect x="320.8" y="106.7" width="9.4" height="2.5" rx="1.2" fill="#000" opacity="0.199" filter="url(#bb)"/>
<rect x="320.8" y="102.8" width="9.4" height="2.5" rx="1.2" fill="#000" opacity="0.185" filter="url(#bb)"/>
<rect x="320.9" y="99.0" width="9.4" height="2.5" rx="1.2" fill="#000" opacity="0.172" filter="url(#bb)"/>
<rect x="320.9" y="95.5" width="9.4" height="2.5" rx="1.2" fill="#000" opacity="0.141" filter="url(#bb)"/>
<rect x="320.9" y="92.0" width="9.4" height="2.5" rx="1.2" fill="#000" opacity="0.115" filter="url(#bb)"/>
<rect x="321.0" y="88.6" width="9.4" height="2.5" rx="1.2" fill="#000" opacity="0.094" filter="url(#bb)"/>
<rect x="321.0" y="85.2" width="9.4" height="2.5" rx="1.2" fill="#000" opacity="0.077" filter="url(#bb)"/>
<rect x="321.0" y="81.8" width="9.4" height="2.5" rx="1.2" fill="#000" opacity="0.063" filter="url(#bb)"/>
<rect x="321.1" y="78.5" width="9.4" height="2.5" rx="1.2" fill="#000" opacity="0.052" filter="url(#bb)"/>
<rect x="321.1" y="75.2" width="9.4" height="2.5" rx="1.2" fill="#000" opacity="0.042" filter="url(#bb)"/>
<rect x="321.1" y="71.9" width="9.4" height="2.5" rx="1.2" fill="#000" opacity="0.035" filter="url(#bb)"/>
<rect x="321.2" y="68.6" width="9.4" height="2.5" rx="1.2" fill="#000" opacity="0.028" filter="url(#bb)"/>
<rect x="320.2" y="132.4" width="10.0" height="3.8" rx="1.9" fill="#000" opacity="0.610" filter="url(#bb)"/>
<path d="M336.0,36.0 L346.0,36.0 L344.5,141.0 L334.5,141.0 Z" fill="#000" opacity="0.035" filter="url(#lb)"/>
<path d="M336.0,45 L346.0,45 L344.5,137 L334.5,137 Z" fill="url(#sg17)" filter="url(#sb)"/>
<rect x="335.0" y="123.6" width="9.4" height="3.4" rx="1.2" fill="#000" opacity="0.193" filter="url(#bb)"/>
<rect x="335.1" y="117.2" width="9.4" height="3.0" rx="1.2" fill="#000" opacity="0.183" filter="url(#bb)"/>
<rect x="335.1" y="111.6" width="9.4" height="3.0" rx="1.2" fill="#000" opacity="0.174" filter="url(#bb)"/>
<rect x="335.2" y="107.3" width="9.4" height="2.5" rx="1.2" fill="#000" opacity="0.165" filter="url(#bb)"/>
<rect x="335.3" y="103.5" width="9.4" height="2.5" rx="1.2" fill="#000" opacity="0.157" filter="url(#bb)"/>
<rect x="335.3" y="99.7" width="9.4" height="2.5" rx="1.2" fill="#000" opacity="0.149" filter="url(#bb)"/>
<rect x="335.4" y="96.2" width="9.4" height="2.5" rx="1.2" fill="#000" opacity="0.125" filter="url(#bb)"/>
<rect x="335.4" y="92.7" width="9.4" height="2.5" rx="1.2" fill="#000" opacity="0.104" filter="url(#bb)"/>
<rect x="335.5" y="89.2" width="9.4" height="2.5" rx="1.2" fill="#000" opacity="0.087" filter="url(#bb)"/>
<rect x="335.6" y="85.8" width="9.4" height="2.5" rx="1.2" fill="#000" opacity="0.073" filter="url(#bb)"/>
<rect x="335.6" y="82.5" width="9.4" height="2.5" rx="1.2" fill="#000" opacity="0.061" filter="url(#bb)"/>
<rect x="335.7" y="79.2" width="9.4" height="2.5" rx="1.2" fill="#000" opacity="0.051" filter="url(#bb)"/>
<rect x="335.7" y="75.8" width="9.4" height="2.5" rx="1.2" fill="#000" opacity="0.043" filter="url(#bb)"/>
<rect x="335.8" y="72.5" width="9.4" height="2.5" rx="1.2" fill="#000" opacity="0.036" filter="url(#bb)"/>
<rect x="335.8" y="69.2" width="9.4" height="2.5" rx="1.2" fill="#000" opacity="0.030" filter="url(#bb)"/>
<rect x="334.5" y="133.1" width="10.0" height="3.8" rx="1.9" fill="#000" opacity="0.530" filter="url(#bb)"/>
<path d="M351.7,37.0 L362.7,37.0 L362.7,141.0 L351.7,141.0 Z" fill="#000" opacity="0.035" filter="url(#lb)"/>
<rect x="351.7" y="136.1" width="11.0" height="4.6" rx="2.3" fill="#000" opacity="1.000" filter="url(#bb)"/>
<path d="M365.2,37.0 L375.8,37.0 L375.8,141.0 L365.2,141.0 Z" fill="#000" opacity="0.035" filter="url(#lb)"/>
<rect x="365.2" y="135.3" width="10.5" height="4.6" rx="2.3" fill="#000" opacity="1.000" filter="url(#bb)"/>
<path d="M378.9,37.0 L388.4,37.0 L387.4,141.0 L377.9,141.0 Z" fill="#000" opacity="0.035" filter="url(#lb)"/>
<path d="M378.9,38 L388.4,38 L387.4,136 L377.9,136 Z" fill="url(#sg20)" filter="url(#sb)"/>
<rect x="378.4" y="122.6" width="8.9" height="3.4" rx="1.2" fill="#000" opacity="0.736" filter="url(#bb)"/>
<rect x="378.4" y="116.2" width="8.9" height="3.0" rx="1.2" fill="#000" opacity="0.507" filter="url(#bb)"/>
<rect x="378.5" y="110.6" width="8.9" height="3.0" rx="1.2" fill="#000" opacity="0.329" filter="url(#bb)"/>
<rect x="378.5" y="106.4" width="8.9" height="2.5" rx="1.2" fill="#000" opacity="0.201" filter="url(#bb)"/>
<rect x="378.6" y="102.5" width="8.9" height="2.5" rx="1.2" fill="#000" opacity="0.134" filter="url(#bb)"/>
<rect x="378.6" y="98.7" width="8.9" height="2.5" rx="1.2" fill="#000" opacity="0.100" filter="url(#bb)"/>
<rect x="378.6" y="95.2" width="8.9" height="2.5" rx="1.2" fill="#000" opacity="0.066" filter="url(#bb)"/>
<rect x="378.7" y="91.7" width="8.9" height="2.5" rx="1.2" fill="#000" opacity="0.044" filter="url(#bb)"/>
<rect x="378.7" y="88.2" width="8.9" height="2.5" rx="1.2" fill="#000" opacity="0.029" filter="url(#bb)"/>
<rect x="377.9" y="132.5" width="9.5" height="3.8" rx="1.9" fill="#000" opacity="0.770" filter="url(#bb)"/>
<path d="M391.2,37.0 L400.8,37.0 L399.8,141.0 L390.2,141.0 Z" fill="#000" opacity="0.035" filter="url(#lb)"/>
<path d="M391.2,38 L400.8,38 L399.8,137 L390.2,137 Z" fill="url(#sg21)" filter="url(#sb)"/>
<rect x="390.7" y="122.6" width="8.9" height="3.4" rx="1.2" fill="#000" opacity="0.306" filter="url(#bb)"/>
<rect x="390.7" y="116.2" width="8.9" height="3.0" rx="1.2" fill="#000" opacity="0.215" filter="url(#bb)"/>
<rect x="390.8" y="110.6" width="8.9" height="3.0" rx="1.2" fill="#000" opacity="0.167" filter="url(#bb)"/>
<rect x="390.8" y="106.4" width="8.9" height="2.5" rx="1.2" fill="#000" opacity="0.142" filter="url(#bb)"/>
<rect x="390.9" y="102.5" width="8.9" height="2.5" rx="1.2" fill="#000" opacity="0.121" filter="url(#bb)"/>
<rect x="390.9" y="98.7" width="8.9" height="2.5" rx="1.2" fill="#000" opacity="0.102" filter="url(#bb)"/>
<rect x="390.9" y="95.2" width="8.9" height="2.5" rx="1.2" fill="#000" opacity="0.077" filter="url(#bb)"/>
<rect x="391.0" y="91.7" width="8.9" height="2.5" rx="1.2" fill="#000" opacity="0.057" filter="url(#bb)"/>
<rect x="391.0" y="88.2" width="8.9" height="2.5" rx="1.2" fill="#000" opacity="0.043" filter="url(#bb)"/>
<rect x="391.1" y="84.9" width="8.9" height="2.5" rx="1.2" fill="#000" opacity="0.032" filter="url(#bb)"/>
<rect x="391.1" y="81.5" width="8.9" height="2.5" rx="1.2" fill="#000" opacity="0.024" filter="url(#bb)"/>
<rect x="390.2" y="132.5" width="9.5" height="3.8" rx="1.9" fill="#000" opacity="0.600" filter="url(#bb)"/>
<path d="M404.0,37.0 L413.0,37.0 L412.0,141.0 L403.0,141.0 Z" fill="#000" opacity="0.035" filter="url(#lb)"/>
<path d="M404.0,39 L413.0,39 L412.0,137 L403.0,137 Z" fill="url(#sg22)" filter="url(#sb)"/>
<rect x="403.4" y="122.6" width="8.4" height="3.4" rx="1.2" fill="#000" opacity="0.165" filter="url(#bb)"/>
<rect x="403.5" y="116.2" width="8.4" height="3.0" rx="1.2" fill="#000" opacity="0.149" filter="url(#bb)"/>
<rect x="403.5" y="110.6" width="8.4" height="3.0" rx="1.2" fill="#000" opacity="0.134" filter="url(#bb)"/>
<rect x="403.6" y="106.4" width="8.4" height="2.5" rx="1.2" fill="#000" opacity="0.120" filter="url(#bb)"/>
<rect x="403.6" y="102.5" width="8.4" height="2.5" rx="1.2" fill="#000" opacity="0.108" filter="url(#bb)"/>
<rect x="403.7" y="98.7" width="8.4" height="2.5" rx="1.2" fill="#000" opacity="0.097" filter="url(#bb)"/>
<rect x="403.7" y="95.2" width="8.4" height="2.5" rx="1.2" fill="#000" opacity="0.077" filter="url(#bb)"/>
<rect x="403.7" y="91.7" width="8.4" height="2.5" rx="1.2" fill="#000" opacity="0.061" filter="url(#bb)"/>
<rect x="403.8" y="88.2" width="8.4" height="2.5" rx="1.2" fill="#000" opacity="0.048" filter="url(#bb)"/>
<rect x="403.8" y="84.9" width="8.4" height="2.5" rx="1.2" fill="#000" opacity="0.038" filter="url(#bb)"/>
<rect x="403.8" y="81.5" width="8.4" height="2.5" rx="1.2" fill="#000" opacity="0.030" filter="url(#bb)"/>
<rect x="403.9" y="78.2" width="8.4" height="2.5" rx="1.2" fill="#000" opacity="0.024" filter="url(#bb)"/>
<rect x="403.0" y="132.6" width="9.0" height="3.6" rx="1.8" fill="#000" opacity="0.500" filter="url(#bb)"/>
<path d="M416.4,37.0 L425.9,37.0 L424.9,141.0 L415.4,141.0 Z" fill="#000" opacity="0.035" filter="url(#lb)"/>
<path d="M416.4,38.5 L425.9,38.5 L424.9,137 L415.4,137 Z" fill="url(#sg23)" filter="url(#sb)"/>
<rect x="415.9" y="122.6" width="8.9" height="3.4" rx="1.2" fill="#000" opacity="0.121" filter="url(#bb)"/>
<rect x="415.9" y="116.2" width="8.9" height="3.0" rx="1.2" fill="#000" opacity="0.111" filter="url(#bb)"/>
<rect x="416.0" y="110.6" width="8.9" height="3.0" rx="1.2" fill="#000" opacity="0.102" filter="url(#bb)"/>
<rect x="416.0" y="106.4" width="8.9" height="2.5" rx="1.2" fill="#000" opacity="0.094" filter="url(#bb)"/>
<rect x="416.1" y="102.5" width="8.9" height="2.5" rx="1.2" fill="#000" opacity="0.087" filter="url(#bb)"/>
<rect x="416.1" y="98.7" width="8.9" height="2.5" rx="1.2" fill="#000" opacity="0.080" filter="url(#bb)"/>
<rect x="416.1" y="95.2" width="8.9" height="2.5" rx="1.2" fill="#000" opacity="0.065" filter="url(#bb)"/>
<rect x="416.2" y="91.7" width="8.9" height="2.5" rx="1.2" fill="#000" opacity="0.052" filter="url(#bb)"/>
<rect x="416.2" y="88.2" width="8.9" height="2.5" rx="1.2" fill="#000" opacity="0.042" filter="url(#bb)"/>
<rect x="416.3" y="84.9" width="8.9" height="2.5" rx="1.2" fill="#000" opacity="0.034" filter="url(#bb)"/>
<rect x="416.3" y="81.5" width="8.9" height="2.5" rx="1.2" fill="#000" opacity="0.028" filter="url(#bb)"/>
<rect x="416.3" y="78.2" width="8.9" height="2.5" rx="1.2" fill="#000" opacity="0.022" filter="url(#bb)"/>
<rect x="415.4" y="132.6" width="9.5" height="3.6" rx="1.8" fill="#000" opacity="0.420" filter="url(#bb)"/>
<path d="M426.5,37.0 L438.7,37.0 L438.7,141.0 L426.5,141.0 Z" fill="#000" opacity="0.035" filter="url(#lb)"/>
<rect x="426.5" y="134.8" width="12.2" height="4.6" rx="2.3" fill="#000" opacity="1.000" filter="url(#bb)"/>
<path d="M440.0,37.0 L452.4,37.0 L452.4,141.0 L440.0,141.0 Z" fill="#000" opacity="0.035" filter="url(#lb)"/>
<rect x="440.0" y="134.8" width="12.4" height="4.6" rx="2.3" fill="#000" opacity="1.000" filter="url(#bb)"/>
<path d="M455.7,37.0 L465.7,37.0 L465.2,141.0 L455.2,141.0 Z" fill="#000" opacity="0.035" filter="url(#lb)"/>
<path d="M455.7,48 L465.7,48 L465.2,137 L455.2,137 Z" fill="url(#sg26)" filter="url(#sb)"/>
<rect x="455.6" y="123.0" width="9.4" height="3.4" rx="1.2" fill="#000" opacity="0.654" filter="url(#bb)"/>
<rect x="455.6" y="116.6" width="9.4" height="3.0" rx="1.2" fill="#000" opacity="0.558" filter="url(#bb)"/>
<rect x="455.6" y="111.0" width="9.4" height="3.0" rx="1.2" fill="#000" opacity="0.469" filter="url(#bb)"/>
<rect x="455.6" y="106.8" width="9.4" height="2.5" rx="1.2" fill="#000" opacity="0.392" filter="url(#bb)"/>
<rect x="455.7" y="102.9" width="9.4" height="2.5" rx="1.2" fill="#000" opacity="0.329" filter="url(#bb)"/>
<rect x="455.7" y="99.1" width="9.4" height="2.5" rx="1.2" fill="#000" opacity="0.272" filter="url(#bb)"/>
<rect x="455.7" y="95.6" width="9.4" height="2.5" rx="1.2" fill="#000" opacity="0.185" filter="url(#bb)"/>
<rect x="455.7" y="92.1" width="9.4" height="2.5" rx="1.2" fill="#000" opacity="0.147" filter="url(#bb)"/>
<rect x="455.7" y="88.7" width="9.4" height="2.5" rx="1.2" fill="#000" opacity="0.116" filter="url(#bb)"/>
<rect x="455.8" y="85.2" width="9.4" height="2.5" rx="1.2" fill="#000" opacity="0.092" filter="url(#bb)"/>
<rect x="455.8" y="81.9" width="9.4" height="2.5" rx="1.2" fill="#000" opacity="0.073" filter="url(#bb)"/>
<rect x="455.8" y="78.6" width="9.4" height="2.5" rx="1.2" fill="#000" opacity="0.058" filter="url(#bb)"/>
<rect x="455.8" y="75.2" width="9.4" height="2.5" rx="1.2" fill="#000" opacity="0.046" filter="url(#bb)"/>
<rect x="455.8" y="72.0" width="9.4" height="2.5" rx="1.2" fill="#000" opacity="0.036" filter="url(#bb)"/>
<rect x="455.8" y="68.7" width="9.4" height="2.5" rx="1.2" fill="#000" opacity="0.029" filter="url(#bb)"/>
<rect x="455.9" y="65.4" width="9.4" height="2.5" rx="1.2" fill="#000" opacity="0.023" filter="url(#bb)"/>
<rect x="455.2" y="132.5" width="10.0" height="3.8" rx="1.9" fill="#000" opacity="0.770" filter="url(#bb)"/>
<path d="M468.9,37.0 L478.4,37.0 L477.9,141.0 L468.4,141.0 Z" fill="#000" opacity="0.035" filter="url(#lb)"/>
<path d="M468.9,48 L478.4,48 L477.9,137 L468.4,137 Z" fill="url(#sg27)" filter="url(#sb)"/>
<rect x="468.8" y="122.6" width="8.9" height="3.4" rx="1.2" fill="#000" opacity="0.563" filter="url(#bb)"/>
<rect x="468.8" y="116.2" width="8.9" height="3.0" rx="1.2" fill="#000" opacity="0.477" filter="url(#bb)"/>
<rect x="468.9" y="110.6" width="8.9" height="3.0" rx="1.2" fill="#000" opacity="0.394" filter="url(#bb)"/>
<rect x="468.9" y="106.3" width="8.9" height="2.5" rx="1.2" fill="#000" opacity="0.328" filter="url(#bb)"/>
<rect x="468.9" y="102.5" width="8.9" height="2.5" rx="1.2" fill="#000" opacity="0.277" filter="url(#bb)"/>
<rect x="468.9" y="98.7" width="8.9" height="2.5" rx="1.2" fill="#000" opacity="0.239" filter="url(#bb)"/>
<rect x="468.9" y="95.2" width="8.9" height="2.5" rx="1.2" fill="#000" opacity="0.194" filter="url(#bb)"/>
<rect x="469.0" y="91.7" width="8.9" height="2.5" rx="1.2" fill="#000" opacity="0.157" filter="url(#bb)"/>
<rect x="469.0" y="88.2" width="8.9" height="2.5" rx="1.2" fill="#000" opacity="0.127" filter="url(#bb)"/>
<rect x="469.0" y="84.8" width="8.9" height="2.5" rx="1.2" fill="#000" opacity="0.103" filter="url(#bb)"/>
<rect x="469.0" y="81.5" width="8.9" height="2.5" rx="1.2" fill="#000" opacity="0.083" filter="url(#bb)"/>
<rect x="469.0" y="78.2" width="8.9" height="2.5" rx="1.2" fill="#000" opacity="0.067" filter="url(#bb)"/>
<rect x="469.1" y="74.8" width="8.9" height="2.5" rx="1.2" fill="#000" opacity="0.055" filter="url(#bb)"/>
<rect x="469.1" y="71.5" width="8.9" height="2.5" rx="1.2" fill="#000" opacity="0.044" filter="url(#bb)"/>
<rect x="469.1" y="68.2" width="8.9" height="2.5" rx="1.2" fill="#000" opacity="0.036" filter="url(#bb)"/>
<rect x="469.1" y="65.0" width="8.9" height="2.5" rx="1.2" fill="#000" opacity="0.029" filter="url(#bb)"/>
<rect x="469.1" y="61.7" width="8.9" height="2.5" rx="1.2" fill="#000" opacity="0.023" filter="url(#bb)"/>
<rect x="468.4" y="132.1" width="9.5" height="3.8" rx="1.9" fill="#000" opacity="0.690" filter="url(#bb)"/>
<path d="M482.5,37.0 L491.7,37.0 L491.2,141.0 L482.0,141.0 Z" fill="#000" opacity="0.035" filter="url(#lb)"/>
<path d="M482.5,48 L491.7,48 L491.2,137 L482.0,137 Z" fill="url(#sg28)" filter="url(#sb)"/>
<rect x="482.4" y="123.0" width="8.6" height="3.4" rx="1.2" fill="#000" opacity="0.349" filter="url(#bb)"/>
<rect x="482.4" y="116.6" width="8.6" height="3.0" rx="1.2" fill="#000" opacity="0.277" filter="url(#bb)"/>
<rect x="482.4" y="111.0" width="8.6" height="3.0" rx="1.2" fill="#000" opacity="0.223" filter="url(#bb)"/>
<rect x="482.4" y="106.8" width="8.6" height="2.5" rx="1.2" fill="#000" opacity="0.206" filter="url(#bb)"/>
<rect x="482.5" y="102.9" width="8.6" height="2.5" rx="1.2" fill="#000" opacity="0.189" filter="url(#bb)"/>
<rect x="482.5" y="99.1" width="8.6" height="2.5" rx="1.2" fill="#000" opacity="0.174" filter="url(#bb)"/>
<rect x="482.5" y="95.6" width="8.6" height="2.5" rx="1.2" fill="#000" opacity="0.141" filter="url(#bb)"/>
<rect x="482.5" y="92.1" width="8.6" height="2.5" rx="1.2" fill="#000" opacity="0.114" filter="url(#bb)"/>
<rect x="482.5" y="88.7" width="8.6" height="2.5" rx="1.2" fill="#000" opacity="0.092" filter="url(#bb)"/>
<rect x="482.6" y="85.2" width="8.6" height="2.5" rx="1.2" fill="#000" opacity="0.075" filter="url(#bb)"/>
<rect x="482.6" y="81.9" width="8.6" height="2.5" rx="1.2" fill="#000" opacity="0.061" filter="url(#bb)"/>
<rect x="482.6" y="78.6" width="8.6" height="2.5" rx="1.2" fill="#000" opacity="0.049" filter="url(#bb)"/>
<rect x="482.6" y="75.2" width="8.6" height="2.5" rx="1.2" fill="#000" opacity="0.040" filter="url(#bb)"/>
<rect x="482.6" y="72.0" width="8.6" height="2.5" rx="1.2" fill="#000" opacity="0.032" filter="url(#bb)"/>
<rect x="482.6" y="68.7" width="8.6" height="2.5" rx="1.2" fill="#000" opacity="0.026" filter="url(#bb)"/>
<rect x="482.7" y="65.4" width="8.6" height="2.5" rx="1.2" fill="#000" opacity="0.021" filter="url(#bb)"/>
<rect x="482.0" y="132.6" width="9.2" height="3.6" rx="1.8" fill="#000" opacity="0.580" filter="url(#bb)"/>
<path d="M495.7,37.0 L504.7,37.0 L504.2,141.0 L495.2,141.0 Z" fill="#000" opacity="0.035" filter="url(#lb)"/>
<path d="M495.7,49 L504.7,49 L504.2,138 L495.2,138 Z" fill="url(#sg29)" filter="url(#sb)"/>
<rect x="495.6" y="123.9" width="8.4" height="3.4" rx="1.2" fill="#000" opacity="0.154" filter="url(#bb)"/>
<rect x="495.6" y="117.5" width="8.4" height="3.0" rx="1.2" fill="#000" opacity="0.146" filter="url(#bb)"/>
<rect x="495.6" y="111.9" width="8.4" height="3.0" rx="1.2" fill="#000" opacity="0.139" filter="url(#bb)"/>
<rect x="495.6" y="107.7" width="8.4" height="2.5" rx="1.2" fill="#000" opacity="0.132" filter="url(#bb)"/>
<rect x="495.7" y="103.8" width="8.4" height="2.5" rx="1.2" fill="#000" opacity="0.125" filter="url(#bb)"/>
<rect x="495.7" y="100.0" width="8.4" height="2.5" rx="1.2" fill="#000" opacity="0.119" filter="url(#bb)"/>
<rect x="495.7" y="96.5" width="8.4" height="2.5" rx="1.2" fill="#000" opacity="0.100" filter="url(#bb)"/>
<rect x="495.7" y="93.0" width="8.4" height="2.5" rx="1.2" fill="#000" opacity="0.083" filter="url(#bb)"/>
<rect x="495.7" y="89.6" width="8.4" height="2.5" rx="1.2" fill="#000" opacity="0.070" filter="url(#bb)"/>
<rect x="495.8" y="86.2" width="8.4" height="2.5" rx="1.2" fill="#000" opacity="0.058" filter="url(#bb)"/>
<rect x="495.8" y="82.8" width="8.4" height="2.5" rx="1.2" fill="#000" opacity="0.049" filter="url(#bb)"/>
<rect x="495.8" y="79.5" width="8.4" height="2.5" rx="1.2" fill="#000" opacity="0.041" filter="url(#bb)"/>
<rect x="495.8" y="76.2" width="8.4" height="2.5" rx="1.2" fill="#000" opacity="0.034" filter="url(#bb)"/>
<rect x="495.8" y="72.9" width="8.4" height="2.5" rx="1.2" fill="#000" opacity="0.028" filter="url(#bb)"/>
<rect x="495.8" y="69.6" width="8.4" height="2.5" rx="1.2" fill="#000" opacity="0.024" filter="url(#bb)"/>
<rect x="495.2" y="133.5" width="9.0" height="3.6" rx="1.8" fill="#000" opacity="0.420" filter="url(#bb)"/>
<path d="M509.4,36.5 L518.9,36.5 L518.9,141.5 L509.4,141.5 Z" fill="#000" opacity="0.035" filter="url(#lb)"/>
<rect x="509.4" y="132.1" width="9.5" height="3.8" rx="1.9" fill="#000" opacity="0.840" filter="url(#bb)"/>
<path d="M521.6,36.5 L530.8,36.5 L530.8,141.5 L521.6,141.5 Z" fill="#000" opacity="0.035" filter="url(#lb)"/>
<rect x="521.6" y="130.9" width="9.2" height="4.0" rx="2.0" fill="#000" opacity="0.920" filter="url(#bb)"/>
<path d="M534.6,36.5 L543.6,36.5 L543.1,141.5 L534.1,141.5 Z" fill="#000" opacity="0.035" filter="url(#lb)"/>
<path d="M534.6,38 L543.6,38 L543.1,133 L534.1,133 Z" fill="url(#sg32)" filter="url(#sb)"/>
<rect x="534.5" y="118.9" width="8.4" height="3.4" rx="1.2" fill="#000" opacity="0.415" filter="url(#bb)"/>
<rect x="534.5" y="112.5" width="8.4" height="3.0" rx="1.2" fill="#000" opacity="0.287" filter="url(#bb)"/>
<rect x="534.5" y="106.9" width="8.4" height="3.0" rx="1.2" fill="#000" opacity="0.199" filter="url(#bb)"/>
<rect x="534.5" y="102.7" width="8.4" height="2.5" rx="1.2" fill="#000" opacity="0.141" filter="url(#bb)"/>
<rect x="534.6" y="98.8" width="8.4" height="2.5" rx="1.2" fill="#000" opacity="0.113" filter="url(#bb)"/>
<rect x="534.6" y="95.0" width="8.4" height="2.5" rx="1.2" fill="#000" opacity="0.090" filter="url(#bb)"/>
<rect x="534.6" y="91.5" width="8.4" height="2.5" rx="1.2" fill="#000" opacity="0.063" filter="url(#bb)"/>
<rect x="534.6" y="88.0" width="8.4" height="2.5" rx="1.2" fill="#000" opacity="0.045" filter="url(#bb)"/>
<rect x="534.6" y="84.6" width="8.4" height="2.5" rx="1.2" fill="#000" opacity="0.031" filter="url(#bb)"/>
<rect x="534.7" y="81.2" width="8.4" height="2.5" rx="1.2" fill="#000" opacity="0.022" filter="url(#bb)"/>
<rect x="534.1" y="128.5" width="9.0" height="3.6" rx="1.8" fill="#000" opacity="0.600" filter="url(#bb)"/>
<path d="M547.0,36.5 L555.5,36.5 L555.0,141.5 L546.5,141.5 Z" fill="#000" opacity="0.035" filter="url(#lb)"/>
<path d="M547.0,45 L555.5,45 L555.0,133 L546.5,133 Z" fill="url(#sg33)" filter="url(#sb)"/>
<rect x="546.8" y="118.4" width="7.9" height="3.4" rx="1.2" fill="#000" opacity="0.185" filter="url(#bb)"/>
<rect x="546.8" y="112.0" width="7.9" height="3.0" rx="1.2" fill="#000" opacity="0.151" filter="url(#bb)"/>
<rect x="546.9" y="106.4" width="7.9" height="3.0" rx="1.2" fill="#000" opacity="0.130" filter="url(#bb)"/>
<rect x="546.9" y="102.2" width="7.9" height="2.5" rx="1.2" fill="#000" opacity="0.112" filter="url(#bb)"/>
<rect x="546.9" y="98.3" width="7.9" height="2.5" rx="1.2" fill="#000" opacity="0.096" filter="url(#bb)"/>
<rect x="546.9" y="94.5" width="7.9" height="2.5" rx="1.2" fill="#000" opacity="0.083" filter="url(#bb)"/>
<rect x="546.9" y="91.0" width="7.9" height="2.5" rx="1.2" fill="#000" opacity="0.063" filter="url(#bb)"/>
<rect x="547.0" y="87.5" width="7.9" height="2.5" rx="1.2" fill="#000" opacity="0.047" filter="url(#bb)"/>
<rect x="547.0" y="84.1" width="7.9" height="2.5" rx="1.2" fill="#000" opacity="0.036" filter="url(#bb)"/>
<rect x="547.0" y="80.7" width="7.9" height="2.5" rx="1.2" fill="#000" opacity="0.027" filter="url(#bb)"/>
<rect x="547.0" y="77.3" width="7.9" height="2.5" rx="1.2" fill="#000" opacity="0.021" filter="url(#bb)"/>
<rect x="546.5" y="128.0" width="8.5" height="3.6" rx="1.8" fill="#000" opacity="0.530" filter="url(#bb)"/>
<path d="M558.5,36.5 L567.0,36.5 L566.5,141.5 L558.0,141.5 Z" fill="#000" opacity="0.035" filter="url(#lb)"/>
<path d="M558.5,35 L567.0,35 L566.5,133 L558.0,133 Z" fill="url(#sg34)" filter="url(#sb)"/>
<rect x="558.4" y="119.3" width="7.9" height="3.4" rx="1.2" fill="#000" opacity="0.210" filter="url(#bb)"/>
<rect x="558.4" y="112.9" width="7.9" height="3.0" rx="1.2" fill="#000" opacity="0.143" filter="url(#bb)"/>
<rect x="558.5" y="107.3" width="7.9" height="3.0" rx="1.2" fill="#000" opacity="0.119" filter="url(#bb)"/>
<rect x="558.5" y="103.0" width="7.9" height="2.5" rx="1.2" fill="#000" opacity="0.101" filter="url(#bb)"/>
<rect x="558.5" y="99.1" width="7.9" height="2.5" rx="1.2" fill="#000" opacity="0.086" filter="url(#bb)"/>
<rect x="558.5" y="95.3" width="7.9" height="2.5" rx="1.2" fill="#000" opacity="0.073" filter="url(#bb)"/>
<rect x="558.5" y="91.8" width="7.9" height="2.5" rx="1.2" fill="#000" opacity="0.055" filter="url(#bb)"/>
<rect x="558.6" y="88.3" width="7.9" height="2.5" rx="1.2" fill="#000" opacity="0.041" filter="url(#bb)"/>
<rect x="558.6" y="84.9" width="7.9" height="2.5" rx="1.2" fill="#000" opacity="0.031" filter="url(#bb)"/>
<rect x="558.6" y="81.5" width="7.9" height="2.5" rx="1.2" fill="#000" opacity="0.023" filter="url(#bb)"/>
<rect x="558.0" y="129.0" width="8.5" height="3.4" rx="1.7" fill="#000" opacity="0.450" filter="url(#bb)"/>
<path d="M571.1,36.5 L579.6,36.5 L579.1,141.5 L570.6,141.5 Z" fill="#000" opacity="0.035" filter="url(#lb)"/>
<path d="M571.1,35 L579.6,35 L579.1,133 L570.6,133 Z" fill="url(#sg35)" filter="url(#sb)"/>
<rect x="571.0" y="118.4" width="7.9" height="3.4" rx="1.2" fill="#000" opacity="0.208" filter="url(#bb)"/>
<rect x="571.0" y="112.0" width="7.9" height="3.0" rx="1.2" fill="#000" opacity="0.142" filter="url(#bb)"/>
<rect x="571.1" y="106.4" width="7.9" height="3.0" rx="1.2" fill="#000" opacity="0.119" filter="url(#bb)"/>
<rect x="571.1" y="102.2" width="7.9" height="2.5" rx="1.2" fill="#000" opacity="0.101" filter="url(#bb)"/>
<rect x="571.1" y="98.3" width="7.9" height="2.5" rx="1.2" fill="#000" opacity="0.086" filter="url(#bb)"/>
<rect x="571.1" y="94.5" width="7.9" height="2.5" rx="1.2" fill="#000" opacity="0.073" filter="url(#bb)"/>
<rect x="571.1" y="91.0" width="7.9" height="2.5" rx="1.2" fill="#000" opacity="0.055" filter="url(#bb)"/>
<rect x="571.2" y="87.5" width="7.9" height="2.5" rx="1.2" fill="#000" opacity="0.041" filter="url(#bb)"/>
<rect x="571.2" y="84.1" width="7.9" height="2.5" rx="1.2" fill="#000" opacity="0.031" filter="url(#bb)"/>
<rect x="571.2" y="80.7" width="7.9" height="2.5" rx="1.2" fill="#000" opacity="0.023" filter="url(#bb)"/>
<rect x="570.6" y="128.1" width="8.5" height="3.4" rx="1.7" fill="#000" opacity="0.450" filter="url(#bb)"/>
<path d="M581.5,36.5 L593.1,36.5 L593.1,141.5 L581.5,141.5 Z" fill="#000" opacity="0.035" filter="url(#lb)"/>
<rect x="582.5" y="70.4" width="9.6" height="2" fill="#000" opacity="0.035" filter="url(#bb)"/>
<rect x="581.5" y="128.3" width="11.6" height="5.6" rx="2.8" fill="#000" opacity="1.000" filter="url(#bb)"/>
<path d="M594.8,36.5 L605.8,36.5 L605.8,141.5 L594.8,141.5 Z" fill="#000" opacity="0.035" filter="url(#lb)"/>
<rect x="595.8" y="70.4" width="9.0" height="2" fill="#000" opacity="0.035" filter="url(#bb)"/>
<rect x="594.8" y="129.6" width="11.0" height="4.0" rx="2.0" fill="#000" opacity="1.000" filter="url(#bb)"/>
<path d="M608.7,36.5 L617.7,36.5 L617.2,141.5 L608.2,141.5 Z" fill="#000" opacity="0.035" filter="url(#lb)"/>
<path d="M608.7,80 L617.7,80 L617.2,133 L608.2,133 Z" fill="url(#sg38)" filter="url(#sb)"/>
<rect x="608.6" y="118.1" width="8.4" height="3.4" rx="1.2" fill="#000" opacity="0.350" filter="url(#bb)"/>
<rect x="608.6" y="111.7" width="8.4" height="3.0" rx="1.2" fill="#000" opacity="0.239" filter="url(#bb)"/>
<rect x="608.6" y="106.1" width="8.4" height="3.0" rx="1.2" fill="#000" opacity="0.159" filter="url(#bb)"/>
<rect x="608.6" y="101.8" width="8.4" height="2.5" rx="1.2" fill="#000" opacity="0.110" filter="url(#bb)"/>
<rect x="608.7" y="98.0" width="8.4" height="2.5" rx="1.2" fill="#000" opacity="0.086" filter="url(#bb)"/>
<rect x="608.7" y="94.2" width="8.4" height="2.5" rx="1.2" fill="#000" opacity="0.067" filter="url(#bb)"/>
<rect x="608.7" y="90.7" width="8.4" height="2.5" rx="1.2" fill="#000" opacity="0.046" filter="url(#bb)"/>
<rect x="608.7" y="87.2" width="8.4" height="2.5" rx="1.2" fill="#000" opacity="0.031" filter="url(#bb)"/>
<rect x="608.7" y="83.8" width="8.4" height="2.5" rx="1.2" fill="#000" opacity="0.022" filter="url(#bb)"/>
<rect x="608.2" y="127.7" width="9.0" height="3.6" rx="1.8" fill="#000" opacity="0.500" filter="url(#bb)"/>
<path d="M620.9,36.5 L629.7,36.5 L629.2,141.5 L620.4,141.5 Z" fill="#000" opacity="0.035" filter="url(#lb)"/>
<path d="M620.9,38 L629.7,38 L629.2,133 L620.4,133 Z" fill="url(#sg39)" filter="url(#sb)"/>
<rect x="620.8" y="118.1" width="8.2" height="3.4" rx="1.2" fill="#000" opacity="0.251" filter="url(#bb)"/>
<rect x="620.8" y="111.7" width="8.2" height="3.0" rx="1.2" fill="#000" opacity="0.167" filter="url(#bb)"/>
<rect x="620.8" y="106.1" width="8.2" height="3.0" rx="1.2" fill="#000" opacity="0.129" filter="url(#bb)"/>
<rect x="620.8" y="101.8" width="8.2" height="2.5" rx="1.2" fill="#000" opacity="0.106" filter="url(#bb)"/>
<rect x="620.9" y="98.0" width="8.2" height="2.5" rx="1.2" fill="#000" opacity="0.087" filter="url(#bb)"/>
<rect x="620.9" y="94.2" width="8.2" height="2.5" rx="1.2" fill="#000" opacity="0.071" filter="url(#bb)"/>
<rect x="620.9" y="90.7" width="8.2" height="2.5" rx="1.2" fill="#000" opacity="0.051" filter="url(#bb)"/>
<rect x="620.9" y="87.2" width="8.2" height="2.5" rx="1.2" fill="#000" opacity="0.037" filter="url(#bb)"/>
<rect x="620.9" y="83.8" width="8.2" height="2.5" rx="1.2" fill="#000" opacity="0.027" filter="url(#bb)"/>
<rect x="620.4" y="127.7" width="8.8" height="3.6" rx="1.8" fill="#000" opacity="0.420" filter="url(#bb)"/>
<path d="M633.0,36.5 L641.5,36.5 L641.0,141.5 L632.5,141.5 Z" fill="#000" opacity="0.035" filter="url(#lb)"/>
<path d="M633.0,38 L641.5,38 L641.0,133 L632.5,133 Z" fill="url(#sg40)" filter="url(#sb)"/>
<rect x="632.8" y="118.6" width="7.9" height="3.4" rx="1.2" fill="#000" opacity="0.156" filter="url(#bb)"/>
<rect x="632.8" y="112.2" width="7.9" height="3.0" rx="1.2" fill="#000" opacity="0.131" filter="url(#bb)"/>
<rect x="632.9" y="106.6" width="7.9" height="3.0" rx="1.2" fill="#000" opacity="0.111" filter="url(#bb)"/>
<rect x="632.9" y="102.3" width="7.9" height="2.5" rx="1.2" fill="#000" opacity="0.095" filter="url(#bb)"/>
<rect x="632.9" y="98.5" width="7.9" height="2.5" rx="1.2" fill="#000" opacity="0.080" filter="url(#bb)"/>
<rect x="632.9" y="94.7" width="7.9" height="2.5" rx="1.2" fill="#000" opacity="0.068" filter="url(#bb)"/>
<rect x="632.9" y="91.2" width="7.9" height="2.5" rx="1.2" fill="#000" opacity="0.051" filter="url(#bb)"/>
<rect x="633.0" y="87.7" width="7.9" height="2.5" rx="1.2" fill="#000" opacity="0.038" filter="url(#bb)"/>
<rect x="633.0" y="84.2" width="7.9" height="2.5" rx="1.2" fill="#000" opacity="0.029" filter="url(#bb)"/>
<rect x="633.0" y="80.8" width="7.9" height="2.5" rx="1.2" fill="#000" opacity="0.021" filter="url(#bb)"/>
<rect x="632.5" y="128.3" width="8.5" height="3.4" rx="1.7" fill="#000" opacity="0.350" filter="url(#bb)"/>
<path d="M644.7,36.5 L653.5,36.5 L653.0,141.5 L644.2,141.5 Z" fill="#000" opacity="0.035" filter="url(#lb)"/>
<path d="M644.7,36 L653.5,36 L653.0,133 L644.2,133 Z" fill="url(#sg41)" filter="url(#sb)"/>
<rect x="644.6" y="118.8" width="8.2" height="3.4" rx="1.2" fill="#000" opacity="0.171" filter="url(#bb)"/>
<rect x="644.6" y="112.4" width="8.2" height="3.0" rx="1.2" fill="#000" opacity="0.132" filter="url(#bb)"/>
<rect x="644.6" y="106.8" width="8.2" height="3.0" rx="1.2" fill="#000" opacity="0.114" filter="url(#bb)"/>
<rect x="644.6" y="102.5" width="8.2" height="2.5" rx="1.2" fill="#000" opacity="0.098" filter="url(#bb)"/>
<rect x="644.7" y="98.6" width="8.2" height="2.5" rx="1.2" fill="#000" opacity="0.084" filter="url(#bb)"/>
<rect x="644.7" y="94.8" width="8.2" height="2.5" rx="1.2" fill="#000" opacity="0.072" filter="url(#bb)"/>
<rect x="644.7" y="91.3" width="8.2" height="2.5" rx="1.2" fill="#000" opacity="0.055" filter="url(#bb)"/>
<rect x="644.7" y="87.8" width="8.2" height="2.5" rx="1.2" fill="#000" opacity="0.041" filter="url(#bb)"/>
<rect x="644.7" y="84.4" width="8.2" height="2.5" rx="1.2" fill="#000" opacity="0.031" filter="url(#bb)"/>
<rect x="644.8" y="81.0" width="8.2" height="2.5" rx="1.2" fill="#000" opacity="0.024" filter="url(#bb)"/>
<rect x="644.2" y="128.5" width="8.8" height="3.4" rx="1.7" fill="#000" opacity="0.280" filter="url(#bb)"/>
<path d="M180.2,128.6 Q185,129.2 190,130.0 L190.2,132.6 Q185,132.2 180.4,130.6 Z" fill="#000" opacity="0.95" filter="url(#bb)"/>
<ellipse cx="184.5" cy="40.5" rx="6.3" ry="5.5" fill="#e4e4e4" stroke="#b8b8b8" stroke-width="0.8" filter="url(#bb)"/>
<ellipse cx="195.3" cy="38.8" rx="4" ry="4.3" fill="#e2e2e2" stroke="#c0c0c0" stroke-width="0.7" filter="url(#bb)"/>
<path d="M209,37 L216,36 L222,45 L218,50 Z" fill="#e6e6e6" filter="url(#ab)"/>
<path d="M260,34 L262,36 L276,49 L300,42 L342,35 Z" fill="#f2f2f2" filter="url(#ab)"/>
<circle cx="344.2" cy="45" r="2.4" fill="none" stroke="#999" stroke-width="0.7"/>
<rect x="427" y="37" width="77" height="11" fill="#e4e4e4" opacity="0.7" filter="url(#ab)"/>
<path d="M510,37 L521,37 L519,47 L513,51 L510,49 Z" fill="#e2e2e2" stroke="#b0b0b0" stroke-width="0.5" filter="url(#bb)"/>
<text x="2.3" y="7.8" font-size="15" text-anchor="start" font-weight="bold" fill="#000" stroke="#000" stroke-width="0.18" >a</text>
<text x="71.3" y="11.8" font-size="8.35" text-anchor="end" font-weight="normal" fill="#000" stroke="#000" stroke-width="0.18" >Mutant</text>
<text x="71.7" y="21.9" font-size="8.35" text-anchor="end" font-weight="normal" fill="#000" stroke="#000" stroke-width="0.18" >Time (min)</text>
<text x="70.6" y="32.2" font-size="8.35" text-anchor="end" font-weight="normal" fill="#000" stroke="#000" stroke-width="0.18" >E1</text>
<text x="123.0" y="9.8" font-size="8.35" text-anchor="middle" font-weight="bold" fill="#000" stroke="#000" stroke-width="0.18" >pWT</text>
<rect x="75.4" y="12.4" width="94.1" height="1.1" fill="#8f8f8f"/>
<text x="85.2" y="22.7" font-size="8.35" text-anchor="middle" font-weight="normal" fill="#000" stroke="#000" stroke-width="0.18" >60</text>
<text x="103.0" y="22.7" font-size="8.35" text-anchor="middle" font-weight="normal" fill="#000" stroke="#000" stroke-width="0.18" >0</text>
<text x="118.5" y="22.7" font-size="8.35" text-anchor="middle" font-weight="normal" fill="#000" stroke="#000" stroke-width="0.18" >5</text>
<text x="133.4" y="22.7" font-size="8.35" text-anchor="middle" font-weight="normal" fill="#000" stroke="#000" stroke-width="0.18" >15</text>
<text x="148.5" y="22.7" font-size="8.35" text-anchor="middle" font-weight="normal" fill="#000" stroke="#000" stroke-width="0.18" >30</text>
<text x="164.1" y="22.7" font-size="8.35" text-anchor="middle" font-weight="normal" fill="#000" stroke="#000" stroke-width="0.18" >60</text>
<text x="85.5" y="33.4" font-size="8.35" text-anchor="middle" font-weight="normal" fill="#000" stroke="#000" stroke-width="0.18" >-</text>
<text x="103.1" y="33.4" font-size="8.35" text-anchor="middle" font-weight="normal" fill="#000" stroke="#000" stroke-width="0.18" >+</text>
<text x="118.8" y="33.4" font-size="8.35" text-anchor="middle" font-weight="normal" fill="#000" stroke="#000" stroke-width="0.18" >+</text>
<text x="133.1" y="33.4" font-size="8.35" text-anchor="middle" font-weight="normal" fill="#000" stroke="#000" stroke-width="0.18" >+</text>
<text x="148.5" y="33.4" font-size="8.35" text-anchor="middle" font-weight="normal" fill="#000" stroke="#000" stroke-width="0.18" >+</text>
<text x="164.2" y="33.4" font-size="8.35" text-anchor="middle" font-weight="normal" fill="#000" stroke="#000" stroke-width="0.18" >+</text>
<text x="82.4" y="155.3" font-size="8.35" text-anchor="middle" font-weight="normal" fill="#000" stroke="#000" stroke-width="0.18" >-</text>
<text x="99.25" y="155.3" font-size="8.35" text-anchor="middle" font-weight="normal" fill="#000" stroke="#000" stroke-width="0.18" >0</text>
<text x="115.4" y="155.3" font-size="8.35" text-anchor="middle" font-weight="normal" fill="#000" stroke="#000" stroke-width="0.18" >52</text>
<text x="130.5" y="155.3" font-size="8.35" text-anchor="middle" font-weight="normal" fill="#000" stroke="#000" stroke-width="0.18" >69</text>
<text x="146.0" y="155.3" font-size="8.35" text-anchor="middle" font-weight="normal" fill="#000" stroke="#000" stroke-width="0.18" >81</text>
<text x="162.3" y="155.3" font-size="8.35" text-anchor="middle" font-weight="normal" fill="#000" stroke="#000" stroke-width="0.18" >90</text>
<text x="225.2" y="9.8" font-size="8.35" text-anchor="middle" font-weight="normal" fill="#8c8c8c" stroke="#8c8c8c" stroke-width="0.18" >pW403A</text>
<rect x="180.5" y="12.4" width="84.3" height="1.1" fill="#8f8f8f"/>
<text x="184.5" y="24.0" font-size="8.35" text-anchor="middle" font-weight="normal" fill="#000" stroke="#000" stroke-width="0.18" >60</text>
<text x="200.6" y="24.0" font-size="8.35" text-anchor="middle" font-weight="normal" fill="#000" stroke="#000" stroke-width="0.18" >0</text>
<text x="217.5" y="24.0" font-size="8.35" text-anchor="middle" font-weight="normal" fill="#000" stroke="#000" stroke-width="0.18" >5</text>
<text x="231.5" y="24.0" font-size="8.35" text-anchor="middle" font-weight="normal" fill="#000" stroke="#000" stroke-width="0.18" >15</text>
<text x="246.5" y="24.0" font-size="8.35" text-anchor="middle" font-weight="normal" fill="#000" stroke="#000" stroke-width="0.18" >30</text>
<text x="259.5" y="24.0" font-size="8.35" text-anchor="middle" font-weight="normal" fill="#000" stroke="#000" stroke-width="0.18" >60</text>
<text x="184.75" y="34.9" font-size="8.35" text-anchor="middle" font-weight="normal" fill="#000" stroke="#000" stroke-width="0.18" >-</text>
<text x="201.5" y="34.9" font-size="8.35" text-anchor="middle" font-weight="normal" fill="#000" stroke="#000" stroke-width="0.18" >+</text>
<text x="217.0" y="34.9" font-size="8.35" text-anchor="middle" font-weight="normal" fill="#000" stroke="#000" stroke-width="0.18" >+</text>
<text x="230.5" y="34.9" font-size="8.35" text-anchor="middle" font-weight="normal" fill="#000" stroke="#000" stroke-width="0.18" >+</text>
<text x="246.0" y="34.9" font-size="8.35" text-anchor="middle" font-weight="normal" fill="#000" stroke="#000" stroke-width="0.18" >+</text>
<text x="259.0" y="34.9" font-size="8.35" text-anchor="middle" font-weight="normal" fill="#000" stroke="#000" stroke-width="0.18" >+</text>
<text x="186.3" y="155.3" font-size="8.35" text-anchor="middle" font-weight="normal" fill="#000" stroke="#000" stroke-width="0.18" >-</text>
<text x="200.85" y="155.3" font-size="8.35" text-anchor="middle" font-weight="normal" fill="#000" stroke="#000" stroke-width="0.18" >0</text>
<text x="215.0" y="155.3" font-size="8.35" text-anchor="middle" font-weight="normal" fill="#000" stroke="#000" stroke-width="0.18" >42</text>
<text x="227.8" y="155.3" font-size="8.35" text-anchor="middle" font-weight="normal" fill="#000" stroke="#000" stroke-width="0.18" >61</text>
<text x="241.35" y="155.3" font-size="8.35" text-anchor="middle" font-weight="normal" fill="#000" stroke="#000" stroke-width="0.18" >70</text>
<text x="254.7" y="155.3" font-size="8.35" text-anchor="middle" font-weight="normal" fill="#000" stroke="#000" stroke-width="0.18" >79</text>
<text x="307.8" y="9.8" font-size="8.35" text-anchor="middle" font-weight="bold" fill="#ed7d31" stroke="#ed7d31" stroke-width="0.18" >pP37L</text>
<rect x="271.0" y="12.4" width="73.5" height="1.1" fill="#8f8f8f"/>
<text x="275.5" y="24.0" font-size="8.35" text-anchor="middle" font-weight="normal" fill="#000" stroke="#000" stroke-width="0.18" >60</text>
<text x="287.25" y="24.0" font-size="8.35" text-anchor="middle" font-weight="normal" fill="#000" stroke="#000" stroke-width="0.18" >0</text>
<text x="299.0" y="24.0" font-size="8.35" text-anchor="middle" font-weight="normal" fill="#000" stroke="#000" stroke-width="0.18" >5</text>
<text x="314.5" y="24.0" font-size="8.35" text-anchor="middle" font-weight="normal" fill="#000" stroke="#000" stroke-width="0.18" >15</text>
<text x="327.75" y="24.0" font-size="8.35" text-anchor="middle" font-weight="normal" fill="#000" stroke="#000" stroke-width="0.18" >30</text>
<text x="341.5" y="24.0" font-size="8.35" text-anchor="middle" font-weight="normal" fill="#000" stroke="#000" stroke-width="0.18" >60</text>
<text x="275.5" y="34.9" font-size="8.35" text-anchor="middle" font-weight="normal" fill="#000" stroke="#000" stroke-width="0.18" >-</text>
<text x="287.0" y="34.9" font-size="8.35" text-anchor="middle" font-weight="normal" fill="#000" stroke="#000" stroke-width="0.18" >+</text>
<text x="299.0" y="34.9" font-size="8.35" text-anchor="middle" font-weight="normal" fill="#000" stroke="#000" stroke-width="0.18" >+</text>
<text x="313.5" y="34.9" font-size="8.35" text-anchor="middle" font-weight="normal" fill="#000" stroke="#000" stroke-width="0.18" >+</text>
<text x="328.0" y="34.9" font-size="8.35" text-anchor="middle" font-weight="normal" fill="#000" stroke="#000" stroke-width="0.18" >+</text>
<text x="341.0" y="34.9" font-size="8.35" text-anchor="middle" font-weight="normal" fill="#000" stroke="#000" stroke-width="0.18" >+</text>
<text x="268.5" y="155.3" font-size="8.35" text-anchor="middle" font-weight="normal" fill="#000" stroke="#000" stroke-width="0.18" >-</text>
<text x="283.6" y="155.3" font-size="8.35" text-anchor="middle" font-weight="normal" fill="#000" stroke="#000" stroke-width="0.18" >0</text>
<text x="297.2" y="155.3" font-size="8.35" text-anchor="middle" font-weight="normal" fill="#000" stroke="#000" stroke-width="0.18" >28</text>
<text x="310.55" y="155.3" font-size="8.35" text-anchor="middle" font-weight="normal" fill="#000" stroke="#000" stroke-width="0.18" >57</text>
<text x="325.65" y="155.3" font-size="8.35" text-anchor="middle" font-weight="normal" fill="#000" stroke="#000" stroke-width="0.18" >66</text>
<text x="339.5" y="155.3" font-size="8.35" text-anchor="middle" font-weight="normal" fill="#000" stroke="#000" stroke-width="0.18" >75</text>
<text x="392.5" y="9.8" font-size="8.35" text-anchor="middle" font-weight="bold" fill="#7030a0" stroke="#7030a0" stroke-width="0.18" >pV224A</text>
<rect x="351.5" y="12.4" width="70.0" height="1.1" fill="#8f8f8f"/>
<text x="358.5" y="24.0" font-size="8.35" text-anchor="middle" font-weight="normal" fill="#000" stroke="#000" stroke-width="0.18" >60</text>
<text x="370.25" y="24.0" font-size="8.35" text-anchor="middle" font-weight="normal" fill="#000" stroke="#000" stroke-width="0.18" >0</text>
<text x="382.0" y="24.0" font-size="8.35" text-anchor="middle" font-weight="normal" fill="#000" stroke="#000" stroke-width="0.18" >5</text>
<text x="396.5" y="24.0" font-size="8.35" text-anchor="middle" font-weight="normal" fill="#000" stroke="#000" stroke-width="0.18" >15</text>
<text x="408.75" y="24.0" font-size="8.35" text-anchor="middle" font-weight="normal" fill="#000" stroke="#000" stroke-width="0.18" >30</text>
<text x="421.1" y="24.0" font-size="8.35" text-anchor="middle" font-weight="normal" fill="#000" stroke="#000" stroke-width="0.18" >60</text>
<text x="358.0" y="34.9" font-size="8.35" text-anchor="middle" font-weight="normal" fill="#000" stroke="#000" stroke-width="0.18" >-</text>
<text x="370.75" y="34.9" font-size="8.35" text-anchor="middle" font-weight="normal" fill="#000" stroke="#000" stroke-width="0.18" >+</text>
<text x="382.0" y="34.9" font-size="8.35" text-anchor="middle" font-weight="normal" fill="#000" stroke="#000" stroke-width="0.18" >+</text>
<text x="395.75" y="34.9" font-size="8.35" text-anchor="middle" font-weight="normal" fill="#000" stroke="#000" stroke-width="0.18" >+</text>
<text x="409.0" y="34.9" font-size="8.35" text-anchor="middle" font-weight="normal" fill="#000" stroke="#000" stroke-width="0.18" >+</text>
<text x="421.5" y="34.9" font-size="8.35" text-anchor="middle" font-weight="normal" fill="#000" stroke="#000" stroke-width="0.18" >+</text>
<text x="356.0" y="155.3" font-size="8.35" text-anchor="middle" font-weight="normal" fill="#000" stroke="#000" stroke-width="0.18" >-</text>
<text x="370.6" y="155.3" font-size="8.35" text-anchor="middle" font-weight="normal" fill="#000" stroke="#000" stroke-width="0.18" >0</text>
<text x="383.1" y="155.3" font-size="8.35" text-anchor="middle" font-weight="normal" fill="#000" stroke="#000" stroke-width="0.18" >49</text>
<text x="395.2" y="155.3" font-size="8.35" text-anchor="middle" font-weight="normal" fill="#000" stroke="#000" stroke-width="0.18" >72</text>
<text x="407.4" y="155.3" font-size="8.35" text-anchor="middle" font-weight="normal" fill="#000" stroke="#000" stroke-width="0.18" >79</text>
<text x="419.85" y="155.3" font-size="8.35" text-anchor="middle" font-weight="normal" fill="#000" stroke="#000" stroke-width="0.18" >86</text>
<text x="469.0" y="9.8" font-size="8.35" text-anchor="middle" font-weight="bold" fill="#ff0000" stroke="#ff0000" stroke-width="0.18" >pR234Q</text>
<rect x="428.0" y="12.4" width="77.0" height="1.1" fill="#8f8f8f"/>
<text x="435.4" y="24.0" font-size="8.35" text-anchor="middle" font-weight="normal" fill="#000" stroke="#000" stroke-width="0.18" >60</text>
<text x="446.25" y="24.0" font-size="8.35" text-anchor="middle" font-weight="normal" fill="#000" stroke="#000" stroke-width="0.18" >0</text>
<text x="458.5" y="24.0" font-size="8.35" text-anchor="middle" font-weight="normal" fill="#000" stroke="#000" stroke-width="0.18" >5</text>
<text x="472.5" y="24.0" font-size="8.35" text-anchor="middle" font-weight="normal" fill="#000" stroke="#000" stroke-width="0.18" >15</text>
<text x="485.5" y="24.0" font-size="8.35" text-anchor="middle" font-weight="normal" fill="#000" stroke="#000" stroke-width="0.18" >30</text>
<text x="497.75" y="24.0" font-size="8.35" text-anchor="middle" font-weight="normal" fill="#000" stroke="#000" stroke-width="0.18" >60</text>
<text x="435.0" y="34.9" font-size="8.35" text-anchor="middle" font-weight="normal" fill="#000" stroke="#000" stroke-width="0.18" >-</text>
<text x="447.5" y="34.9" font-size="8.35" text-anchor="middle" font-weight="normal" fill="#000" stroke="#000" stroke-width="0.18" >+</text>
<text x="459.0" y="34.9" font-size="8.35" text-anchor="middle" font-weight="normal" fill="#000" stroke="#000" stroke-width="0.18" >+</text>
<text x="472.5" y="34.9" font-size="8.35" text-anchor="middle" font-weight="normal" fill="#000" stroke="#000" stroke-width="0.18" >+</text>
<text x="485.75" y="34.9" font-size="8.35" text-anchor="middle" font-weight="normal" fill="#000" stroke="#000" stroke-width="0.18" >+</text>
<text x="498.0" y="34.9" font-size="8.35" text-anchor="middle" font-weight="normal" fill="#000" stroke="#000" stroke-width="0.18" >+</text>
<text x="432.2" y="155.3" font-size="8.35" text-anchor="middle" font-weight="normal" fill="#000" stroke="#000" stroke-width="0.18" >-</text>
<text x="445.5" y="155.3" font-size="8.35" text-anchor="middle" font-weight="normal" fill="#000" stroke="#000" stroke-width="0.18" >0</text>
<text x="459.95" y="155.3" font-size="8.35" text-anchor="middle" font-weight="normal" fill="#000" stroke="#000" stroke-width="0.18" >36</text>
<text x="473.35" y="155.3" font-size="8.35" text-anchor="middle" font-weight="normal" fill="#000" stroke="#000" stroke-width="0.18" >68</text>
<text x="487.55" y="155.3" font-size="8.35" text-anchor="middle" font-weight="normal" fill="#000" stroke="#000" stroke-width="0.18" >78</text>
<text x="500.65" y="155.3" font-size="8.35" text-anchor="middle" font-weight="normal" fill="#000" stroke="#000" stroke-width="0.18" >87</text>
<text x="547.8" y="9.8" font-size="8.35" text-anchor="middle" font-weight="bold" fill="#70ad47" stroke="#70ad47" stroke-width="0.18" >pR256C</text>
<rect x="509.0" y="12.4" width="71.5" height="1.1" fill="#8f8f8f"/>
<text x="513.75" y="24.0" font-size="8.35" text-anchor="middle" font-weight="normal" fill="#000" stroke="#000" stroke-width="0.18" >60</text>
<text x="527.5" y="24.0" font-size="8.35" text-anchor="middle" font-weight="normal" fill="#000" stroke="#000" stroke-width="0.18" >0</text>
<text x="540.0" y="24.0" font-size="8.35" text-anchor="middle" font-weight="normal" fill="#000" stroke="#000" stroke-width="0.18" >5</text>
<text x="553.5" y="24.0" font-size="8.35" text-anchor="middle" font-weight="normal" fill="#000" stroke="#000" stroke-width="0.18" >15</text>
<text x="566.5" y="24.0" font-size="8.35" text-anchor="middle" font-weight="normal" fill="#000" stroke="#000" stroke-width="0.18" >30</text>
<text x="577.5" y="24.0" font-size="8.35" text-anchor="middle" font-weight="normal" fill="#000" stroke="#000" stroke-width="0.18" >60</text>
<text x="514.0" y="34.9" font-size="8.35" text-anchor="middle" font-weight="normal" fill="#000" stroke="#000" stroke-width="0.18" >-</text>
<text x="527.5" y="34.9" font-size="8.35" text-anchor="middle" font-weight="normal" fill="#000" stroke="#000" stroke-width="0.18" >+</text>
<text x="540.5" y="34.9" font-size="8.35" text-anchor="middle" font-weight="normal" fill="#000" stroke="#000" stroke-width="0.18" >+</text>
<text x="553.5" y="34.9" font-size="8.35" text-anchor="middle" font-weight="normal" fill="#000" stroke="#000" stroke-width="0.18" >+</text>
<text x="566.0" y="34.9" font-size="8.35" text-anchor="middle" font-weight="normal" fill="#000" stroke="#000" stroke-width="0.18" >+</text>
<text x="577.5" y="34.9" font-size="8.35" text-anchor="middle" font-weight="normal" fill="#000" stroke="#000" stroke-width="0.18" >+</text>
<text x="515.0" y="155.3" font-size="8.35" text-anchor="middle" font-weight="normal" fill="#000" stroke="#000" stroke-width="0.18" >-</text>
<text x="526.65" y="155.3" font-size="8.35" text-anchor="middle" font-weight="normal" fill="#000" stroke="#000" stroke-width="0.18" >0</text>
<text x="539.0" y="155.3" font-size="8.35" text-anchor="middle" font-weight="normal" fill="#000" stroke="#000" stroke-width="0.18" >44</text>
<text x="550.55" y="155.3" font-size="8.35" text-anchor="middle" font-weight="normal" fill="#000" stroke="#000" stroke-width="0.18" >70</text>
<text x="562.75" y="155.3" font-size="8.35" text-anchor="middle" font-weight="normal" fill="#000" stroke="#000" stroke-width="0.18" >80</text>
<text x="575.05" y="155.3" font-size="8.35" text-anchor="middle" font-weight="normal" fill="#000" stroke="#000" stroke-width="0.18" >73</text>
<text x="621.0" y="9.8" font-size="8.35" text-anchor="middle" font-weight="bold" fill="#2f5aa8" stroke="#2f5aa8" stroke-width="0.18" >pM458L</text>
<rect x="585.0" y="12.4" width="70.0" height="1.1" fill="#8f8f8f"/>
<text x="590.25" y="24.0" font-size="8.35" text-anchor="middle" font-weight="normal" fill="#000" stroke="#000" stroke-width="0.18" >60</text>
<text x="601.0" y="24.0" font-size="8.35" text-anchor="middle" font-weight="normal" fill="#000" stroke="#000" stroke-width="0.18" >0</text>
<text x="612.5" y="24.0" font-size="8.35" text-anchor="middle" font-weight="normal" fill="#000" stroke="#000" stroke-width="0.18" >5</text>
<text x="623.5" y="24.0" font-size="8.35" text-anchor="middle" font-weight="normal" fill="#000" stroke="#000" stroke-width="0.18" >15</text>
<text x="636.5" y="24.0" font-size="8.35" text-anchor="middle" font-weight="normal" fill="#000" stroke="#000" stroke-width="0.18" >30</text>
<text x="648.25" y="24.0" font-size="8.35" text-anchor="middle" font-weight="normal" fill="#000" stroke="#000" stroke-width="0.18" >60</text>
<text x="590.0" y="34.9" font-size="8.35" text-anchor="middle" font-weight="normal" fill="#000" stroke="#000" stroke-width="0.18" >-</text>
<text x="601.0" y="34.9" font-size="8.35" text-anchor="middle" font-weight="normal" fill="#000" stroke="#000" stroke-width="0.18" >+</text>
<text x="613.0" y="34.9" font-size="8.35" text-anchor="middle" font-weight="normal" fill="#000" stroke="#000" stroke-width="0.18" >+</text>
<text x="624.0" y="34.9" font-size="8.35" text-anchor="middle" font-weight="normal" fill="#000" stroke="#000" stroke-width="0.18" >+</text>
<text x="636.0" y="34.9" font-size="8.35" text-anchor="middle" font-weight="normal" fill="#000" stroke="#000" stroke-width="0.18" >+</text>
<text x="648.0" y="34.9" font-size="8.35" text-anchor="middle" font-weight="normal" fill="#000" stroke="#000" stroke-width="0.18" >+</text>
<text x="588.6" y="155.3" font-size="8.35" text-anchor="middle" font-weight="normal" fill="#000" stroke="#000" stroke-width="0.18" >-</text>
<text x="601.55" y="155.3" font-size="8.35" text-anchor="middle" font-weight="normal" fill="#000" stroke="#000" stroke-width="0.18" >0</text>
<text x="614.05" y="155.3" font-size="8.35" text-anchor="middle" font-weight="normal" fill="#000" stroke="#000" stroke-width="0.18" >69</text>
<text x="625.85" y="155.3" font-size="8.35" text-anchor="middle" font-weight="normal" fill="#000" stroke="#000" stroke-width="0.18" >74</text>
<text x="637.4" y="155.3" font-size="8.35" text-anchor="middle" font-weight="normal" fill="#000" stroke="#000" stroke-width="0.18" >80</text>
<text x="648.55" y="155.3" font-size="8.35" text-anchor="middle" font-weight="normal" fill="#000" stroke="#000" stroke-width="0.18" >92</text>
<text x="59.9" y="82.8" font-size="8.35" text-anchor="end" font-weight="normal" fill="#000" stroke="#000" stroke-width="0.18" >pParkin-Ub</text>
<text x="60.2" y="84.6" font-size="5.8" text-anchor="start" font-weight="normal" fill="#000" stroke="#000" stroke-width="0.18" >n</text>
<text x="66.3" y="131.3" font-size="8.35" text-anchor="end" font-weight="normal" fill="#000" stroke="#000" stroke-width="0.18" >pParkin</text>
<rect x="69" y="128.8" width="1.8" height="0.9" fill="#333"/>
<path d="M71.2,37.3 Q68.6,37.3 68.6,40 L68.6,119.2 Q68.6,121.8 71.2,121.8" fill="none" stroke="#333" stroke-width="1.1"/>
<rect x="66.6" y="79.2" width="2" height="0.9" fill="#444"/>
<text x="70.3" y="149.5" font-size="8.35" text-anchor="end" font-weight="normal" fill="#000" stroke="#000" stroke-width="0.18" >% Decrease in</text>
<text x="71.0" y="159.0" font-size="8.35" text-anchor="end" font-weight="normal" fill="#000" stroke="#000" stroke-width="0.18" >unmodified pParkin</text>
<text x="664" y="22.3" font-size="8.35" text-anchor="start" font-weight="normal" fill="#000" stroke="#000" stroke-width="0.18" >Mw</text>
<text x="664" y="33.0" font-size="8.35" text-anchor="start" font-weight="normal" fill="#000" stroke="#000" stroke-width="0.18" >(kDa)</text>
<text x="661.6" y="60.4" font-size="8.0" text-anchor="start" font-weight="normal" fill="#000" stroke="#000" stroke-width="0.18" >-250</text>
<text x="661.6" y="79.7" font-size="8.0" text-anchor="start" font-weight="normal" fill="#000" stroke="#000" stroke-width="0.18" >-150</text>
<text x="661.6" y="110.0" font-size="8.0" text-anchor="start" font-weight="normal" fill="#000" stroke="#000" stroke-width="0.18" >-100</text>
<text x="661.6" y="129.2" font-size="8.0" text-anchor="start" font-weight="normal" fill="#000" stroke="#000" stroke-width="0.18" >-75</text>
<text x="2.6" y="196.6" font-size="14.8" text-anchor="start" font-weight="bold" fill="#000" stroke="#000" stroke-width="0.18" >b</text>
<path d="M61.2,189.9 L61.2,278.4" fill="none" stroke="#222" stroke-width="0.9"/>
<path d="M60.800000000000004,278.0 L184.5,278.0" fill="none" stroke="#222" stroke-width="0.9"/>
<path d="M58.6,278.0 L61.2,278.0" stroke="#222" stroke-width="0.9"/>
<text x="54.0" y="281.2" font-size="9.0" text-anchor="end" font-weight="normal" fill="#000" stroke="#000" stroke-width="0.18" >0</text>
<path d="M58.6,260.4 L61.2,260.4" stroke="#222" stroke-width="0.9"/>
<text x="54.0" y="263.58" font-size="9.0" text-anchor="end" font-weight="normal" fill="#000" stroke="#000" stroke-width="0.18" >20</text>
<path d="M58.6,242.8 L61.2,242.8" stroke="#222" stroke-width="0.9"/>
<text x="54.0" y="245.95999999999998" font-size="9.0" text-anchor="end" font-weight="normal" fill="#000" stroke="#000" stroke-width="0.18" >40</text>
<path d="M58.6,225.1 L61.2,225.1" stroke="#222" stroke-width="0.9"/>
<text x="54.0" y="228.33999999999997" font-size="9.0" text-anchor="end" font-weight="normal" fill="#000" stroke="#000" stroke-width="0.18" >60</text>
<path d="M58.6,207.5 L61.2,207.5" stroke="#222" stroke-width="0.9"/>
<text x="54.0" y="210.71999999999997" font-size="9.0" text-anchor="end" font-weight="normal" fill="#000" stroke="#000" stroke-width="0.18" >80</text>
<path d="M58.6,189.9 L61.2,189.9" stroke="#222" stroke-width="0.9"/>
<text x="54.0" y="193.1" font-size="9.0" text-anchor="end" font-weight="normal" fill="#000" stroke="#000" stroke-width="0.18" >100</text>
<path d="M61.2,278.0 L61.2,280.4" stroke="#333" stroke-width="0.9"/>
<text x="61.2" y="292.0" font-size="9.0" text-anchor="middle" font-weight="normal" fill="#000" stroke="#000" stroke-width="0.18" >0</text>
<path d="M81.7,278.0 L81.7,280.4" stroke="#333" stroke-width="0.9"/>
<text x="81.66666666666667" y="292.0" font-size="9.0" text-anchor="middle" font-weight="normal" fill="#000" stroke="#000" stroke-width="0.18" >10</text>
<path d="M102.1,278.0 L102.1,280.4" stroke="#333" stroke-width="0.9"/>
<text x="102.13333333333333" y="292.0" font-size="9.0" text-anchor="middle" font-weight="normal" fill="#000" stroke="#000" stroke-width="0.18" >20</text>
<path d="M122.6,278.0 L122.6,280.4" stroke="#333" stroke-width="0.9"/>
<text x="122.6" y="292.0" font-size="9.0" text-anchor="middle" font-weight="normal" fill="#000" stroke="#000" stroke-width="0.18" >30</text>
<path d="M143.1,278.0 L143.1,280.4" stroke="#333" stroke-width="0.9"/>
<text x="143.06666666666666" y="292.0" font-size="9.0" text-anchor="middle" font-weight="normal" fill="#000" stroke="#000" stroke-width="0.18" >40</text>
<path d="M163.5,278.0 L163.5,280.4" stroke="#333" stroke-width="0.9"/>
<text x="163.53333333333333" y="292.0" font-size="9.0" text-anchor="middle" font-weight="normal" fill="#000" stroke="#000" stroke-width="0.18" >50</text>
<path d="M184.0,278.0 L184.0,280.4" stroke="#333" stroke-width="0.9"/>
<text x="184.0" y="292.0" font-size="9.0" text-anchor="middle" font-weight="normal" fill="#000" stroke="#000" stroke-width="0.18" >60</text>
<text x="122.6" y="304.0" font-size="9.35" text-anchor="middle" font-weight="normal" fill="#000" stroke="#000" stroke-width="0.18" >Time (minutes)</text>
<text transform="translate(24.2,233.9) rotate(-90)" font-size="9.0" text-anchor="middle" stroke="#000" stroke-width="0.18">% Decrease in</text>
<text transform="translate(35.3,233.9) rotate(-90)" font-size="9.0" text-anchor="middle" stroke="#000" stroke-width="0.18">unmodified parkin</text>
<polyline points="61.2,278.0 71.4,244.5 91.9,222.9 122.6,216.3 184.0,207.5" fill="none" stroke="#ed7d31" stroke-width="1.0"/>
<circle cx="61.2" cy="278.0" r="1.45" fill="#ed7d31"/>
<path d="M71.4,234.8 L71.4,253.3" stroke="#ed7d31" stroke-width="0.6"/>
<circle cx="71.4" cy="234.8" r="1.45" fill="#ed7d31"/>
<circle cx="71.4" cy="238.4" r="1.45" fill="#ed7d31"/>
<circle cx="71.4" cy="244.5" r="1.45" fill="#ed7d31"/>
<circle cx="71.4" cy="248.9" r="1.45" fill="#ed7d31"/>
<circle cx="71.4" cy="253.3" r="1.45" fill="#ed7d31"/>
<path d="M91.9,219.0 L91.9,227.8" stroke="#ed7d31" stroke-width="0.6"/>
<circle cx="91.9" cy="219.0" r="1.45" fill="#ed7d31"/>
<circle cx="91.9" cy="222.9" r="1.45" fill="#ed7d31"/>
<circle cx="91.9" cy="227.8" r="1.45" fill="#ed7d31"/>
<path d="M122.6,213.7 L122.6,219.9" stroke="#ed7d31" stroke-width="0.6"/>
<circle cx="122.6" cy="213.7" r="1.45" fill="#ed7d31"/>
<circle cx="122.6" cy="216.3" r="1.45" fill="#ed7d31"/>
<circle cx="122.6" cy="219.9" r="1.45" fill="#ed7d31"/>
<path d="M184.0,205.8 L184.0,211.9" stroke="#ed7d31" stroke-width="0.6"/>
<circle cx="184.0" cy="205.8" r="1.45" fill="#ed7d31"/>
<circle cx="184.0" cy="207.5" r="1.45" fill="#ed7d31"/>
<circle cx="184.0" cy="211.9" r="1.45" fill="#ed7d31"/>
<polyline points="61.2,278.0 71.4,234.8 91.9,217.2 122.6,210.6 184.0,204.9" fill="none" stroke="#7030a0" stroke-width="1.0"/>
<circle cx="61.2" cy="278.0" r="1.45" fill="#7030a0"/>
<path d="M71.4,232.2 L71.4,237.9" stroke="#7030a0" stroke-width="0.6"/>
<circle cx="71.4" cy="232.2" r="1.45" fill="#7030a0"/>
<circle cx="71.4" cy="234.8" r="1.45" fill="#7030a0"/>
<circle cx="71.4" cy="237.9" r="1.45" fill="#7030a0"/>
<path d="M91.9,215.4 L91.9,219.9" stroke="#7030a0" stroke-width="0.6"/>
<circle cx="91.9" cy="215.4" r="1.45" fill="#7030a0"/>
<circle cx="91.9" cy="217.2" r="1.45" fill="#7030a0"/>
<circle cx="91.9" cy="219.9" r="1.45" fill="#7030a0"/>
<path d="M122.6,208.4 L122.6,211.9" stroke="#7030a0" stroke-width="0.6"/>
<circle cx="122.6" cy="208.4" r="1.45" fill="#7030a0"/>
<circle cx="122.6" cy="210.2" r="1.45" fill="#7030a0"/>
<circle cx="122.6" cy="211.9" r="1.45" fill="#7030a0"/>
<path d="M184.0,202.2 L184.0,206.6" stroke="#7030a0" stroke-width="0.6"/>
<circle cx="184.0" cy="202.2" r="1.45" fill="#7030a0"/>
<circle cx="184.0" cy="204.9" r="1.45" fill="#7030a0"/>
<circle cx="184.0" cy="206.6" r="1.45" fill="#7030a0"/>
<text x="191.8" y="203.6" font-size="8.3" text-anchor="start" font-weight="bold" fill="#7030a0" stroke="#7030a0" stroke-width="0.18" >pV224A</text>
<text x="191.8" y="213.8" font-size="8.3" text-anchor="start" font-weight="bold" fill="#ed7d31" stroke="#ed7d31" stroke-width="0.18" >pP37L</text>
<path d="M282.4,199.0 L282.4,284.2" fill="none" stroke="#222" stroke-width="0.9"/>
<path d="M282.0,283.8 L407.2,283.8" fill="none" stroke="#8c8c8c" stroke-width="1.4"/>
<path d="M279.8,283.8 L282.4,283.8" stroke="#222" stroke-width="0.9"/>
<text x="275.2" y="287.0" font-size="9.0" text-anchor="end" font-weight="normal" fill="#000" stroke="#000" stroke-width="0.18" >0</text>
<path d="M279.8,266.8 L282.4,266.8" stroke="#222" stroke-width="0.9"/>
<text x="275.2" y="270.04" font-size="9.0" text-anchor="end" font-weight="normal" fill="#000" stroke="#000" stroke-width="0.18" >20</text>
<path d="M279.8,249.9 L282.4,249.9" stroke="#222" stroke-width="0.9"/>
<text x="275.2" y="253.07999999999998" font-size="9.0" text-anchor="end" font-weight="normal" fill="#000" stroke="#000" stroke-width="0.18" >40</text>
<path d="M279.8,232.9 L282.4,232.9" stroke="#222" stroke-width="0.9"/>
<text x="275.2" y="236.12" font-size="9.0" text-anchor="end" font-weight="normal" fill="#000" stroke="#000" stroke-width="0.18" >60</text>
<path d="M279.8,216.0 L282.4,216.0" stroke="#222" stroke-width="0.9"/>
<text x="275.2" y="219.16" font-size="9.0" text-anchor="end" font-weight="normal" fill="#000" stroke="#000" stroke-width="0.18" >80</text>
<path d="M279.8,199.0 L282.4,199.0" stroke="#222" stroke-width="0.9"/>
<text x="275.2" y="202.2" font-size="9.0" text-anchor="end" font-weight="normal" fill="#000" stroke="#000" stroke-width="0.18" >100</text>
<path d="M282.4,283.8 L282.4,286.2" stroke="#333" stroke-width="0.9"/>
<text x="282.4" y="298.0" font-size="9.0" text-anchor="middle" font-weight="normal" fill="#000" stroke="#000" stroke-width="0.18" >0</text>
<path d="M303.1,283.8 L303.1,286.2" stroke="#333" stroke-width="0.9"/>
<text x="303.1166666666666" y="298.0" font-size="9.0" text-anchor="middle" font-weight="normal" fill="#000" stroke="#000" stroke-width="0.18" >10</text>
<path d="M323.8,283.8 L323.8,286.2" stroke="#333" stroke-width="0.9"/>
<text x="323.8333333333333" y="298.0" font-size="9.0" text-anchor="middle" font-weight="normal" fill="#000" stroke="#000" stroke-width="0.18" >20</text>
<path d="M344.5,283.8 L344.5,286.2" stroke="#333" stroke-width="0.9"/>
<text x="344.54999999999995" y="298.0" font-size="9.0" text-anchor="middle" font-weight="normal" fill="#000" stroke="#000" stroke-width="0.18" >30</text>
<path d="M365.3,283.8 L365.3,286.2" stroke="#333" stroke-width="0.9"/>
<text x="365.26666666666665" y="298.0" font-size="9.0" text-anchor="middle" font-weight="normal" fill="#000" stroke="#000" stroke-width="0.18" >40</text>
<path d="M386.0,283.8 L386.0,286.2" stroke="#333" stroke-width="0.9"/>
<text x="385.98333333333335" y="298.0" font-size="9.0" text-anchor="middle" font-weight="normal" fill="#000" stroke="#000" stroke-width="0.18" >50</text>
<path d="M406.7,283.8 L406.7,286.2" stroke="#333" stroke-width="0.9"/>
<text x="406.7" y="298.0" font-size="9.0" text-anchor="middle" font-weight="normal" fill="#000" stroke="#000" stroke-width="0.18" >60</text>
<text x="344.54999999999995" y="310.0" font-size="9.35" text-anchor="middle" font-weight="normal" fill="#000" stroke="#000" stroke-width="0.18" >Time (minutes)</text>
<text transform="translate(244.0,241.4) rotate(-90)" font-size="9.0" text-anchor="middle" stroke="#000" stroke-width="0.18">% Decrease in</text>
<text transform="translate(255.3,241.4) rotate(-90)" font-size="9.0" text-anchor="middle" stroke="#000" stroke-width="0.18">unmodified parkin</text>
<polyline points="282.4,283.8 292.8,240.6 313.5,225.3 344.5,218.5 406.7,217.7" fill="none" stroke="#70ad47" stroke-width="1.0"/>
<circle cx="282.4" cy="283.8" r="1.45" fill="#70ad47"/>
<path d="M292.8,231.2 L292.8,243.9" stroke="#70ad47" stroke-width="0.6"/>
<circle cx="292.8" cy="231.2" r="1.45" fill="#70ad47"/>
<circle cx="292.8" cy="236.3" r="1.45" fill="#70ad47"/>
<circle cx="292.8" cy="240.6" r="1.45" fill="#70ad47"/>
<circle cx="292.8" cy="243.9" r="1.45" fill="#70ad47"/>
<path d="M313.5,223.6 L313.5,227.8" stroke="#70ad47" stroke-width="0.6"/>
<circle cx="313.5" cy="223.6" r="1.45" fill="#70ad47"/>
<circle cx="313.5" cy="225.3" r="1.45" fill="#70ad47"/>
<circle cx="313.5" cy="227.8" r="1.45" fill="#70ad47"/>
<path d="M344.5,215.1 L344.5,220.2" stroke="#70ad47" stroke-width="0.6"/>
<circle cx="344.5" cy="215.1" r="1.45" fill="#70ad47"/>
<circle cx="344.5" cy="218.5" r="1.45" fill="#70ad47"/>
<circle cx="344.5" cy="220.2" r="1.45" fill="#70ad47"/>
<path d="M406.7,214.3 L406.7,221.9" stroke="#70ad47" stroke-width="0.6"/>
<circle cx="406.7" cy="214.3" r="1.45" fill="#70ad47"/>
<circle cx="406.7" cy="217.7" r="1.45" fill="#70ad47"/>
<circle cx="406.7" cy="221.9" r="1.45" fill="#70ad47"/>
<polyline points="282.4,283.8 292.8,245.1 313.5,226.1 344.5,218.9 406.7,210.4" fill="none" stroke="#ff0000" stroke-width="1.0"/>
<circle cx="282.4" cy="283.8" r="1.45" fill="#ff0000"/>
<path d="M292.8,242.2 L292.8,253.3" stroke="#ff0000" stroke-width="0.6"/>
<circle cx="292.8" cy="242.2" r="1.45" fill="#ff0000"/>
<circle cx="292.8" cy="243.9" r="1.45" fill="#ff0000"/>
<circle cx="292.8" cy="253.3" r="1.45" fill="#ff0000"/>
<path d="M313.5,222.2 L313.5,229.1" stroke="#ff0000" stroke-width="0.6"/>
<circle cx="313.5" cy="222.2" r="1.45" fill="#ff0000"/>
<circle cx="313.5" cy="224.4" r="1.45" fill="#ff0000"/>
<circle cx="313.5" cy="227.0" r="1.45" fill="#ff0000"/>
<circle cx="313.5" cy="229.1" r="1.45" fill="#ff0000"/>
<path d="M344.5,217.7 L344.5,221.0" stroke="#ff0000" stroke-width="0.6"/>
<circle cx="344.5" cy="217.7" r="1.45" fill="#ff0000"/>
<circle cx="344.5" cy="219.4" r="1.45" fill="#ff0000"/>
<circle cx="344.5" cy="221.0" r="1.45" fill="#ff0000"/>
<path d="M406.7,209.2 L406.7,212.6" stroke="#ff0000" stroke-width="0.6"/>
<circle cx="406.7" cy="209.2" r="1.45" fill="#ff0000"/>
<circle cx="406.7" cy="210.0" r="1.45" fill="#ff0000"/>
<circle cx="406.7" cy="212.6" r="1.45" fill="#ff0000"/>
<text x="414.9" y="210.3" font-size="8.3" text-anchor="start" font-weight="bold" fill="#ff0000" stroke="#ff0000" stroke-width="0.18" >pR234Q</text>
<text x="414.9" y="221.0" font-size="8.3" text-anchor="start" font-weight="bold" fill="#70ad47" stroke="#70ad47" stroke-width="0.18" >pR256C</text>
<path d="M510.2,196.6 L510.2,282.59999999999997" fill="none" stroke="#555" stroke-width="0.9"/>
<path d="M509.8,282.2 L634.7,282.2" fill="none" stroke="#8c8c8c" stroke-width="1.4"/>
<path d="M507.6,282.2 L510.2,282.2" stroke="#555" stroke-width="0.9"/>
<text x="503.0" y="285.4" font-size="9.0" text-anchor="end" font-weight="normal" fill="#000" stroke="#000" stroke-width="0.18" >0</text>
<path d="M507.6,265.1 L510.2,265.1" stroke="#555" stroke-width="0.9"/>
<text x="503.0" y="268.28" font-size="9.0" text-anchor="end" font-weight="normal" fill="#000" stroke="#000" stroke-width="0.18" >20</text>
<path d="M507.6,248.0 L510.2,248.0" stroke="#555" stroke-width="0.9"/>
<text x="503.0" y="251.15999999999997" font-size="9.0" text-anchor="end" font-weight="normal" fill="#000" stroke="#000" stroke-width="0.18" >40</text>
<path d="M507.6,230.8 L510.2,230.8" stroke="#555" stroke-width="0.9"/>
<text x="503.0" y="234.03999999999996" font-size="9.0" text-anchor="end" font-weight="normal" fill="#000" stroke="#000" stroke-width="0.18" >60</text>
<path d="M507.6,213.7 L510.2,213.7" stroke="#555" stroke-width="0.9"/>
<text x="503.0" y="216.91999999999996" font-size="9.0" text-anchor="end" font-weight="normal" fill="#000" stroke="#000" stroke-width="0.18" >80</text>
<path d="M507.6,196.6 L510.2,196.6" stroke="#555" stroke-width="0.9"/>
<text x="503.0" y="199.79999999999998" font-size="9.0" text-anchor="end" font-weight="normal" fill="#000" stroke="#000" stroke-width="0.18" >100</text>
<path d="M510.2,282.2 L510.2,284.59999999999997" stroke="#333" stroke-width="0.9"/>
<text x="510.2" y="295.9" font-size="9.0" text-anchor="middle" font-weight="normal" fill="#000" stroke="#000" stroke-width="0.18" >0</text>
<path d="M530.9,282.2 L530.9,284.59999999999997" stroke="#333" stroke-width="0.9"/>
<text x="530.8666666666667" y="295.9" font-size="9.0" text-anchor="middle" font-weight="normal" fill="#000" stroke="#000" stroke-width="0.18" >10</text>
<path d="M551.5,282.2 L551.5,284.59999999999997" stroke="#333" stroke-width="0.9"/>
<text x="551.5333333333333" y="295.9" font-size="9.0" text-anchor="middle" font-weight="normal" fill="#000" stroke="#000" stroke-width="0.18" >20</text>
<path d="M572.2,282.2 L572.2,284.59999999999997" stroke="#333" stroke-width="0.9"/>
<text x="572.2" y="295.9" font-size="9.0" text-anchor="middle" font-weight="normal" fill="#000" stroke="#000" stroke-width="0.18" >30</text>
<path d="M592.9,282.2 L592.9,284.59999999999997" stroke="#333" stroke-width="0.9"/>
<text x="592.8666666666667" y="295.9" font-size="9.0" text-anchor="middle" font-weight="normal" fill="#000" stroke="#000" stroke-width="0.18" >40</text>
<path d="M613.5,282.2 L613.5,284.59999999999997" stroke="#333" stroke-width="0.9"/>
<text x="613.5333333333334" y="295.9" font-size="9.0" text-anchor="middle" font-weight="normal" fill="#000" stroke="#000" stroke-width="0.18" >50</text>
<path d="M634.2,282.2 L634.2,284.59999999999997" stroke="#333" stroke-width="0.9"/>
<text x="634.2" y="295.9" font-size="9.0" text-anchor="middle" font-weight="normal" fill="#000" stroke="#000" stroke-width="0.18" >60</text>
<text x="573.2" y="307.8" font-size="9.35" text-anchor="middle" font-weight="normal" fill="#000" stroke="#000" stroke-width="0.18" >Time (minutes)</text>
<text transform="translate(473.3,239.4) rotate(-90)" font-size="9.0" text-anchor="middle" stroke="#000" stroke-width="0.18">% Decrease in</text>
<text transform="translate(484.3,239.4) rotate(-90)" font-size="9.0" text-anchor="middle" stroke="#000" stroke-width="0.18">unmodified parkin</text>
<polyline points="510.2,282.2 520.5,230.0 541.2,229.1 572.2,220.6 634.2,218.0" fill="none" stroke="#8c8c8c" stroke-width="1.0"/>
<circle cx="510.2" cy="282.2" r="1.45" fill="#8c8c8c"/>
<path d="M520.5,216.3 L520.5,244.5" stroke="#8c8c8c" stroke-width="0.6"/>
<circle cx="520.5" cy="216.3" r="1.45" fill="#8c8c8c"/>
<circle cx="520.5" cy="230.0" r="1.45" fill="#8c8c8c"/>
<circle cx="520.5" cy="237.7" r="1.45" fill="#8c8c8c"/>
<circle cx="520.5" cy="244.5" r="1.45" fill="#8c8c8c"/>
<path d="M541.2,229.1 L541.2,232.6" stroke="#8c8c8c" stroke-width="0.6"/>
<circle cx="541.2" cy="229.1" r="1.45" fill="#8c8c8c"/>
<circle cx="541.2" cy="232.6" r="1.45" fill="#8c8c8c"/>
<path d="M572.2,220.6 L572.2,222.3" stroke="#8c8c8c" stroke-width="0.6"/>
<circle cx="572.2" cy="220.6" r="1.45" fill="#8c8c8c"/>
<circle cx="572.2" cy="222.3" r="1.45" fill="#8c8c8c"/>
<path d="M634.2,214.6 L634.2,228.7" stroke="#8c8c8c" stroke-width="0.6"/>
<circle cx="634.2" cy="214.6" r="1.45" fill="#8c8c8c"/>
<circle cx="634.2" cy="218.0" r="1.45" fill="#8c8c8c"/>
<circle cx="634.2" cy="228.7" r="1.45" fill="#8c8c8c"/>
<polyline points="510.2,282.2 520.5,239.1 541.2,229.1 572.2,220.6 634.2,212.2" fill="none" stroke="#000000" stroke-width="1.0"/>
<circle cx="510.2" cy="282.2" r="1.45" fill="#000000"/>
<path d="M520.5,238.5 L520.5,248.0" stroke="#000000" stroke-width="0.6"/>
<circle cx="520.5" cy="238.5" r="1.45" fill="#000000"/>
<circle cx="520.5" cy="243.7" r="1.45" fill="#000000"/>
<circle cx="520.5" cy="248.0" r="1.45" fill="#000000"/>
<path d="M541.2,229.1 L541.2,230.8" stroke="#000000" stroke-width="0.6"/>
<circle cx="541.2" cy="229.1" r="1.45" fill="#000000"/>
<circle cx="541.2" cy="230.8" r="1.45" fill="#000000"/>
<path d="M572.2,220.6 L572.2,226.0" stroke="#000000" stroke-width="0.6"/>
<circle cx="572.2" cy="220.6" r="1.45" fill="#000000"/>
<circle cx="572.2" cy="226.0" r="1.45" fill="#000000"/>
<path d="M634.2,210.3 L634.2,214.6" stroke="#000000" stroke-width="0.6"/>
<circle cx="634.2" cy="210.3" r="1.45" fill="#000000"/>
<circle cx="634.2" cy="212.2" r="1.45" fill="#000000"/>
<circle cx="634.2" cy="214.6" r="1.45" fill="#000000"/>
<polyline points="510.2,282.2 520.5,228.6 541.2,221.2 572.2,215.2 634.2,208.8" fill="none" stroke="#2f5aa8" stroke-width="1.0"/>
<circle cx="510.2" cy="282.2" r="1.45" fill="#2f5aa8"/>
<path d="M520.5,222.3 L520.5,235.1" stroke="#2f5aa8" stroke-width="0.6"/>
<circle cx="520.5" cy="222.3" r="1.45" fill="#2f5aa8"/>
<circle cx="520.5" cy="225.7" r="1.45" fill="#2f5aa8"/>
<circle cx="520.5" cy="228.6" r="1.45" fill="#2f5aa8"/>
<circle cx="520.5" cy="231.7" r="1.45" fill="#2f5aa8"/>
<circle cx="520.5" cy="235.1" r="1.45" fill="#2f5aa8"/>
<path d="M541.2,218.3 L541.2,224.0" stroke="#2f5aa8" stroke-width="0.6"/>
<circle cx="541.2" cy="218.3" r="1.45" fill="#2f5aa8"/>
<circle cx="541.2" cy="220.6" r="1.45" fill="#2f5aa8"/>
<circle cx="541.2" cy="224.0" r="1.45" fill="#2f5aa8"/>
<path d="M572.2,210.3 L572.2,216.5" stroke="#2f5aa8" stroke-width="0.6"/>
<circle cx="572.2" cy="210.3" r="1.45" fill="#2f5aa8"/>
<circle cx="572.2" cy="212.0" r="1.45" fill="#2f5aa8"/>
<circle cx="572.2" cy="214.1" r="1.45" fill="#2f5aa8"/>
<circle cx="572.2" cy="216.5" r="1.45" fill="#2f5aa8"/>
<path d="M634.2,204.3 L634.2,213.7" stroke="#2f5aa8" stroke-width="0.6"/>
<circle cx="634.2" cy="204.3" r="1.45" fill="#2f5aa8"/>
<circle cx="634.2" cy="206.9" r="1.45" fill="#2f5aa8"/>
<circle cx="634.2" cy="208.8" r="1.45" fill="#2f5aa8"/>
<circle cx="634.2" cy="211.2" r="1.45" fill="#2f5aa8"/>
<circle cx="634.2" cy="213.7" r="1.45" fill="#2f5aa8"/>
<text x="641.4" y="206.7" font-size="8.3" text-anchor="start" font-weight="bold" fill="#2f5aa8" stroke="#2f5aa8" stroke-width="0.18" >pM458L</text>
<text x="641.4" y="213.8" font-size="8.3" text-anchor="start" font-weight="bold" fill="#000" stroke="#000" stroke-width="0.18" >pWT</text>
<text x="641.4" y="221.5" font-size="8.7" text-anchor="start" font-weight="normal" fill="#8c8c8c" stroke="#8c8c8c" stroke-width="0.18" >pW403A</text>
</svg>
</body></html>
